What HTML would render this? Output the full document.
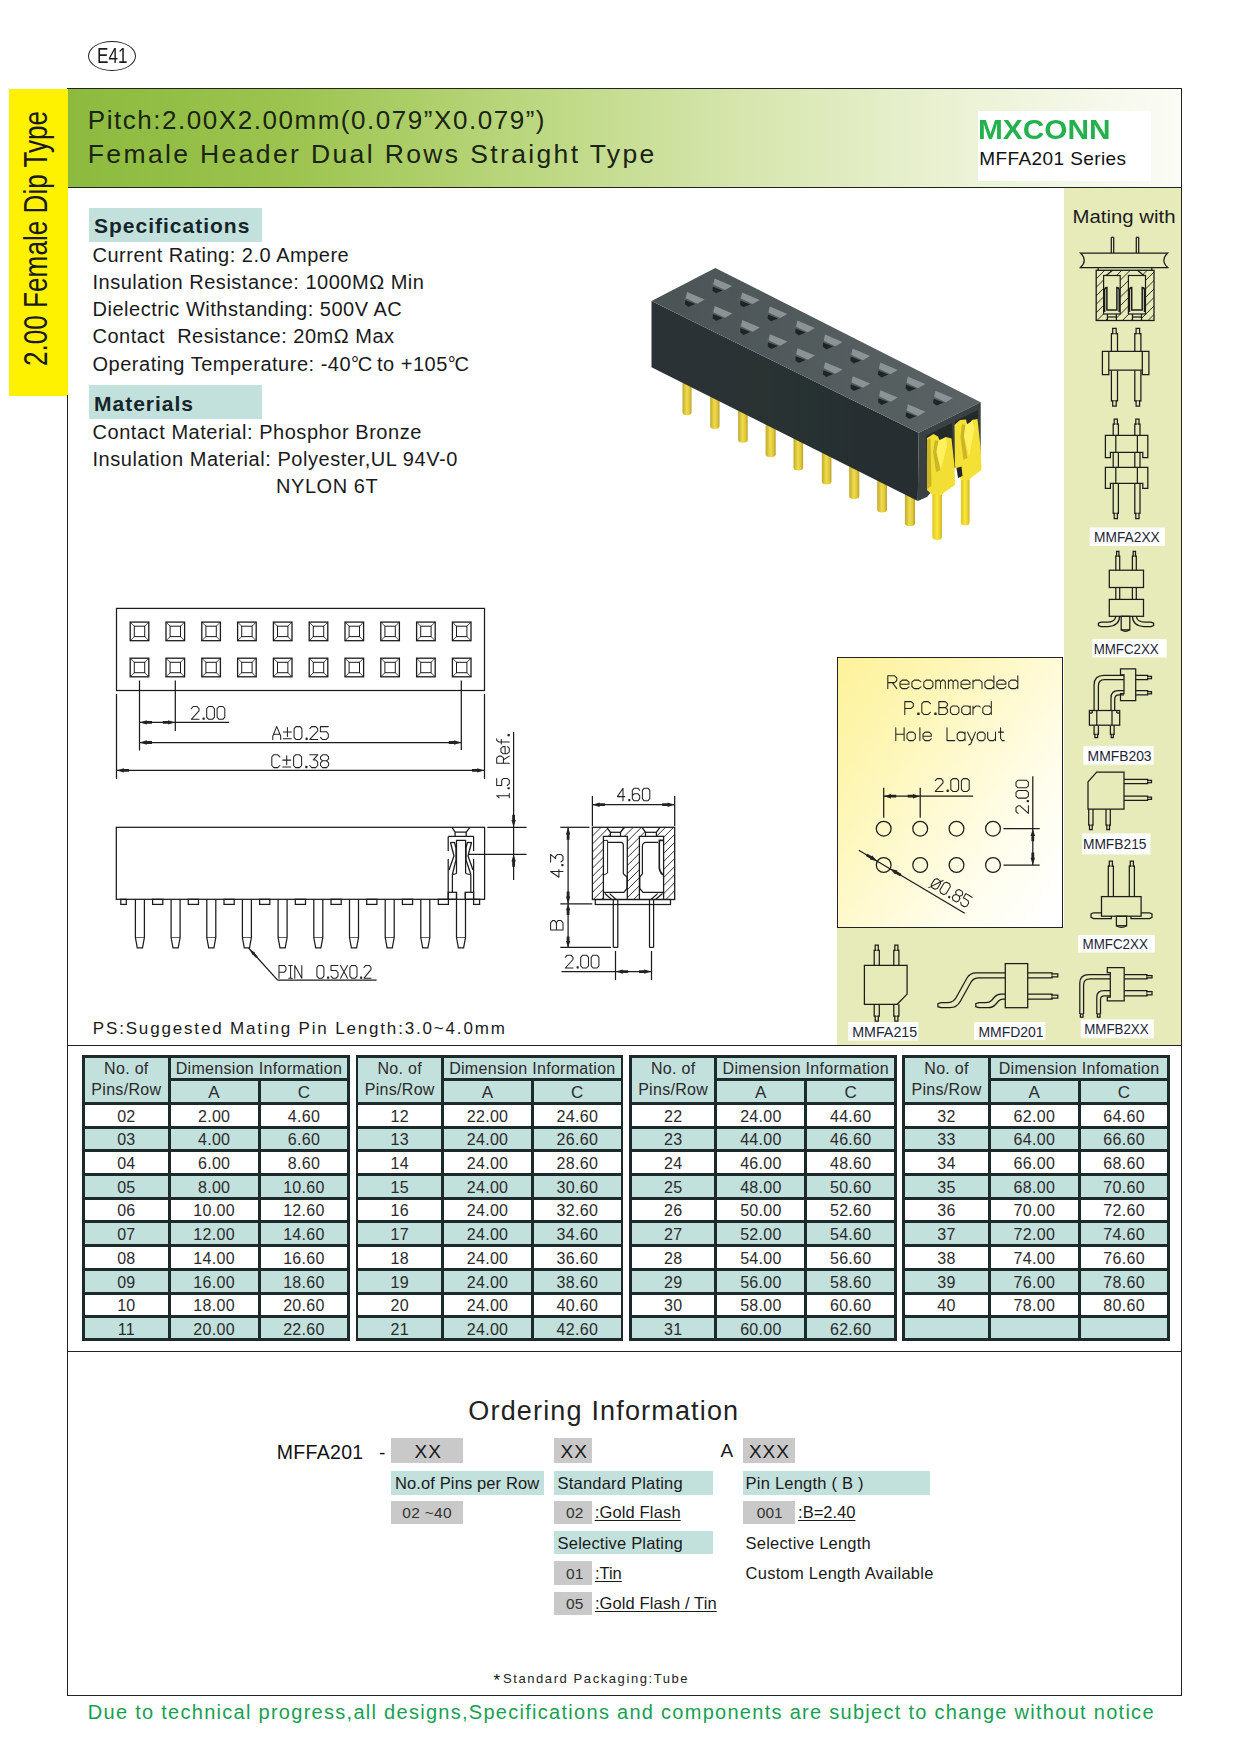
<!DOCTYPE html>
<html><head><meta charset="utf-8"><title>MFFA201 Series</title>
<style>
html,body{margin:0;padding:0;background:#fff;}
body{width:1240px;height:1755px;position:relative;overflow:hidden;font-family:"Liberation Sans",sans-serif;color:#1a1a1a;}
.t{position:absolute;white-space:pre;line-height:1;transform-origin:0 0;}
.r{position:absolute;}
.u{text-decoration:underline;text-decoration-thickness:1.3px;text-underline-offset:2px;}
svg{position:absolute;left:0;top:0;overflow:visible;}
svg text{font-family:"Liberation Sans",sans-serif;}
.c{position:absolute;overflow:hidden;text-align:center;color:#2b2b2b;}
.c span{position:absolute;left:0;right:0;line-height:1;white-space:pre;letter-spacing:0.3px;}
.tb{position:absolute;border-collapse:collapse;table-layout:fixed;font-size:15.5px;color:#222;}
.tb td{border:3px solid #1d2b2b;text-align:center;padding:0;line-height:1;overflow:hidden;white-space:nowrap;}
.tb .g{background:#c3e1dc;}
.tb .w{background:#fff;}
</style></head><body>

<div class="r" style="left:68.0px;top:88.5px;width:1113.5px;height:99.0px;background:linear-gradient(90deg,#8cba3e 0%,#9cc44f 20%,#b9d67c 40%,#d3e4a8 58%,#e6efcb 75%,#f3f7e6 90%,#fbfcf6 100%);"></div>
<div class="r" style="left:9.0px;top:88.5px;width:59.0px;height:307.0px;background:#fff200;"></div>
<div class="r" style="left:67.0px;top:88.0px;width:1115.0px;height:1.0px;background:#222;"></div>
<div class="r" style="left:68.0px;top:187.0px;width:1114.0px;height:1.0px;background:#222;"></div>
<div class="r" style="left:67.0px;top:395.0px;width:1.0px;height:1301.0px;background:#222;"></div>
<div class="r" style="left:1181.0px;top:88.0px;width:1.0px;height:1608.0px;background:#222;"></div>
<div class="r" style="left:67.0px;top:1695.0px;width:1115.0px;height:1.0px;background:#222;"></div>
<div class="r" style="left:67.0px;top:1045.0px;width:1115.0px;height:1.0px;background:#222;"></div>
<div class="r" style="left:67.0px;top:1351.0px;width:1115.0px;height:1.0px;background:#222;"></div>
<div class="r" style="left:1064.0px;top:188.0px;width:117.0px;height:857.0px;background:#e6ebb9;"></div>
<div class="r" style="left:837.0px;top:927.0px;width:228.0px;height:118.0px;background:#e6ebb9;"></div>
<div class="r" style="left:837.0px;top:657.0px;width:226.3px;height:270.5px;background:linear-gradient(125deg,#fdf29a 0%,#fdf5ae 20%,#fef9cc 45%,#fffdea 70%,#ffffff 95%);border:1px solid #222;box-sizing:border-box;"></div>
<div class="r" style="left:88px;top:40.5px;width:48px;height:30.5px;border:1px solid #222;border-radius:50%;box-sizing:border-box;"></div>
<div class="t " style="left:97.0px;top:45.2px;font-size:22.5px;transform:scaleX(0.76);">E41</div>
<div class="t" style="left:46.5px;top:366px;font-size:32.5px;transform:rotate(-90deg) scaleX(0.804);transform-origin:0 0;line-height:1;"><span style="position:relative;top:-27.5px">2.00 Female Dip Type</span></div>
<div class="t " style="left:87.8px;top:106.6px;font-size:26px;color:#1b2414;letter-spacing:1.54px;">Pitch:2.00X2.00mm(0.079”X0.079”)</div>
<div class="t " style="left:87.8px;top:141.2px;font-size:26.5px;color:#1b2414;letter-spacing:2.37px;">Female Header Dual Rows Straight Type</div>
<div class="r" style="left:977.5px;top:111.0px;width:173.0px;height:70.0px;background:#fff;"></div>
<div class="t " style="left:977.5px;top:116.2px;font-size:28px;font-weight:700;color:#22b14c;letter-spacing:0px;transform:scaleX(1.065);">MXCONN</div>
<div class="t " style="left:979.3px;top:148.8px;font-size:19px;color:#111;letter-spacing:0.4px;">MFFA201 Series</div>
<div class="r" style="left:89.0px;top:208.0px;width:173.0px;height:33.5px;background:#c3e1dc;"></div>
<div class="t " style="left:94.0px;top:215.4px;font-size:21px;font-weight:700;color:#16242a;letter-spacing:1.0px;">Specifications</div>
<div class="r" style="left:89.0px;top:385.0px;width:173.0px;height:33.5px;background:#c3e1dc;"></div>
<div class="t " style="left:94.0px;top:392.6px;font-size:21px;font-weight:700;color:#16242a;letter-spacing:1.0px;">Materials</div>
<div class="t " style="left:92.5px;top:244.7px;font-size:20px;letter-spacing:0.51px;">Current Rating: 2.0 Ampere</div>
<div class="t " style="left:92.5px;top:271.9px;font-size:20px;letter-spacing:0.51px;">Insulation Resistance: 1000MΩ Min</div>
<div class="t " style="left:92.5px;top:299.1px;font-size:20px;letter-spacing:0.51px;">Dielectric Withstanding: 500V AC</div>
<div class="t " style="left:92.5px;top:326.3px;font-size:20px;letter-spacing:0.51px;">Contact  Resistance: 20mΩ Max</div>
<div class="t " style="left:92.5px;top:353.5px;font-size:20px;letter-spacing:0.51px;">Operating Temperature: -40<span style="letter-spacing:-1.3px">°C</span> to +105<span style="letter-spacing:-1.3px">°C</span></div>
<div class="t " style="left:92.5px;top:421.6px;font-size:20px;letter-spacing:0.55px;">Contact Material: Phosphor Bronze</div>
<div class="t " style="left:92.5px;top:448.6px;font-size:20px;letter-spacing:0.55px;">Insulation Material: Polyester,UL 94V-0</div>
<div class="t " style="left:276.0px;top:475.6px;font-size:20px;letter-spacing:0.55px;">NYLON 6T</div>
<svg width="1240" height="1755" viewBox="0 0 1240 1755" fill="none" stroke="#1c1c1c" stroke-width="1.25" stroke-linecap="butt">
<rect x="116.5" y="608.4" width="368.0" height="82.1" fill="none"/>
<rect x="130.2" y="622.1" width="18.6" height="18.6" fill="none" stroke-width="1.3"/>
<rect x="134.3" y="626.2" width="10.4" height="10.4" fill="none" stroke-width="1"/>
<line x1="130.2" y1="622.1" x2="134.3" y2="626.2" stroke-width="0.8"/>
<line x1="130.2" y1="640.7" x2="134.3" y2="636.6" stroke-width="0.8"/>
<line x1="148.8" y1="622.1" x2="144.7" y2="626.2" stroke-width="0.8"/>
<line x1="148.8" y1="640.7" x2="144.7" y2="636.6" stroke-width="0.8"/>
<rect x="166.0" y="622.1" width="18.6" height="18.6" fill="none" stroke-width="1.3"/>
<rect x="170.1" y="626.2" width="10.4" height="10.4" fill="none" stroke-width="1"/>
<line x1="166.0" y1="622.1" x2="170.1" y2="626.2" stroke-width="0.8"/>
<line x1="166.0" y1="640.7" x2="170.1" y2="636.6" stroke-width="0.8"/>
<line x1="184.6" y1="622.1" x2="180.5" y2="626.2" stroke-width="0.8"/>
<line x1="184.6" y1="640.7" x2="180.5" y2="636.6" stroke-width="0.8"/>
<rect x="201.8" y="622.1" width="18.6" height="18.6" fill="none" stroke-width="1.3"/>
<rect x="205.9" y="626.2" width="10.4" height="10.4" fill="none" stroke-width="1"/>
<line x1="201.8" y1="622.1" x2="205.9" y2="626.2" stroke-width="0.8"/>
<line x1="201.8" y1="640.7" x2="205.9" y2="636.6" stroke-width="0.8"/>
<line x1="220.4" y1="622.1" x2="216.3" y2="626.2" stroke-width="0.8"/>
<line x1="220.4" y1="640.7" x2="216.3" y2="636.6" stroke-width="0.8"/>
<rect x="237.6" y="622.1" width="18.6" height="18.6" fill="none" stroke-width="1.3"/>
<rect x="241.7" y="626.2" width="10.4" height="10.4" fill="none" stroke-width="1"/>
<line x1="237.6" y1="622.1" x2="241.7" y2="626.2" stroke-width="0.8"/>
<line x1="237.6" y1="640.7" x2="241.7" y2="636.6" stroke-width="0.8"/>
<line x1="256.2" y1="622.1" x2="252.1" y2="626.2" stroke-width="0.8"/>
<line x1="256.2" y1="640.7" x2="252.1" y2="636.6" stroke-width="0.8"/>
<rect x="273.4" y="622.1" width="18.6" height="18.6" fill="none" stroke-width="1.3"/>
<rect x="277.5" y="626.2" width="10.4" height="10.4" fill="none" stroke-width="1"/>
<line x1="273.4" y1="622.1" x2="277.5" y2="626.2" stroke-width="0.8"/>
<line x1="273.4" y1="640.7" x2="277.5" y2="636.6" stroke-width="0.8"/>
<line x1="292.0" y1="622.1" x2="287.9" y2="626.2" stroke-width="0.8"/>
<line x1="292.0" y1="640.7" x2="287.9" y2="636.6" stroke-width="0.8"/>
<rect x="309.2" y="622.1" width="18.6" height="18.6" fill="none" stroke-width="1.3"/>
<rect x="313.3" y="626.2" width="10.4" height="10.4" fill="none" stroke-width="1"/>
<line x1="309.2" y1="622.1" x2="313.3" y2="626.2" stroke-width="0.8"/>
<line x1="309.2" y1="640.7" x2="313.3" y2="636.6" stroke-width="0.8"/>
<line x1="327.8" y1="622.1" x2="323.7" y2="626.2" stroke-width="0.8"/>
<line x1="327.8" y1="640.7" x2="323.7" y2="636.6" stroke-width="0.8"/>
<rect x="345.0" y="622.1" width="18.6" height="18.6" fill="none" stroke-width="1.3"/>
<rect x="349.1" y="626.2" width="10.4" height="10.4" fill="none" stroke-width="1"/>
<line x1="345.0" y1="622.1" x2="349.1" y2="626.2" stroke-width="0.8"/>
<line x1="345.0" y1="640.7" x2="349.1" y2="636.6" stroke-width="0.8"/>
<line x1="363.6" y1="622.1" x2="359.5" y2="626.2" stroke-width="0.8"/>
<line x1="363.6" y1="640.7" x2="359.5" y2="636.6" stroke-width="0.8"/>
<rect x="380.8" y="622.1" width="18.6" height="18.6" fill="none" stroke-width="1.3"/>
<rect x="384.9" y="626.2" width="10.4" height="10.4" fill="none" stroke-width="1"/>
<line x1="380.8" y1="622.1" x2="384.9" y2="626.2" stroke-width="0.8"/>
<line x1="380.8" y1="640.7" x2="384.9" y2="636.6" stroke-width="0.8"/>
<line x1="399.4" y1="622.1" x2="395.3" y2="626.2" stroke-width="0.8"/>
<line x1="399.4" y1="640.7" x2="395.3" y2="636.6" stroke-width="0.8"/>
<rect x="416.6" y="622.1" width="18.6" height="18.6" fill="none" stroke-width="1.3"/>
<rect x="420.7" y="626.2" width="10.4" height="10.4" fill="none" stroke-width="1"/>
<line x1="416.6" y1="622.1" x2="420.7" y2="626.2" stroke-width="0.8"/>
<line x1="416.6" y1="640.7" x2="420.7" y2="636.6" stroke-width="0.8"/>
<line x1="435.2" y1="622.1" x2="431.1" y2="626.2" stroke-width="0.8"/>
<line x1="435.2" y1="640.7" x2="431.1" y2="636.6" stroke-width="0.8"/>
<rect x="452.4" y="622.1" width="18.6" height="18.6" fill="none" stroke-width="1.3"/>
<rect x="456.5" y="626.2" width="10.4" height="10.4" fill="none" stroke-width="1"/>
<line x1="452.4" y1="622.1" x2="456.5" y2="626.2" stroke-width="0.8"/>
<line x1="452.4" y1="640.7" x2="456.5" y2="636.6" stroke-width="0.8"/>
<line x1="471.0" y1="622.1" x2="466.9" y2="626.2" stroke-width="0.8"/>
<line x1="471.0" y1="640.7" x2="466.9" y2="636.6" stroke-width="0.8"/>
<rect x="130.2" y="658.2" width="18.6" height="18.6" fill="none" stroke-width="1.3"/>
<rect x="134.3" y="662.3" width="10.4" height="10.4" fill="none" stroke-width="1"/>
<line x1="130.2" y1="658.2" x2="134.3" y2="662.3" stroke-width="0.8"/>
<line x1="130.2" y1="676.8" x2="134.3" y2="672.7" stroke-width="0.8"/>
<line x1="148.8" y1="658.2" x2="144.7" y2="662.3" stroke-width="0.8"/>
<line x1="148.8" y1="676.8" x2="144.7" y2="672.7" stroke-width="0.8"/>
<rect x="166.0" y="658.2" width="18.6" height="18.6" fill="none" stroke-width="1.3"/>
<rect x="170.1" y="662.3" width="10.4" height="10.4" fill="none" stroke-width="1"/>
<line x1="166.0" y1="658.2" x2="170.1" y2="662.3" stroke-width="0.8"/>
<line x1="166.0" y1="676.8" x2="170.1" y2="672.7" stroke-width="0.8"/>
<line x1="184.6" y1="658.2" x2="180.5" y2="662.3" stroke-width="0.8"/>
<line x1="184.6" y1="676.8" x2="180.5" y2="672.7" stroke-width="0.8"/>
<rect x="201.8" y="658.2" width="18.6" height="18.6" fill="none" stroke-width="1.3"/>
<rect x="205.9" y="662.3" width="10.4" height="10.4" fill="none" stroke-width="1"/>
<line x1="201.8" y1="658.2" x2="205.9" y2="662.3" stroke-width="0.8"/>
<line x1="201.8" y1="676.8" x2="205.9" y2="672.7" stroke-width="0.8"/>
<line x1="220.4" y1="658.2" x2="216.3" y2="662.3" stroke-width="0.8"/>
<line x1="220.4" y1="676.8" x2="216.3" y2="672.7" stroke-width="0.8"/>
<rect x="237.6" y="658.2" width="18.6" height="18.6" fill="none" stroke-width="1.3"/>
<rect x="241.7" y="662.3" width="10.4" height="10.4" fill="none" stroke-width="1"/>
<line x1="237.6" y1="658.2" x2="241.7" y2="662.3" stroke-width="0.8"/>
<line x1="237.6" y1="676.8" x2="241.7" y2="672.7" stroke-width="0.8"/>
<line x1="256.2" y1="658.2" x2="252.1" y2="662.3" stroke-width="0.8"/>
<line x1="256.2" y1="676.8" x2="252.1" y2="672.7" stroke-width="0.8"/>
<rect x="273.4" y="658.2" width="18.6" height="18.6" fill="none" stroke-width="1.3"/>
<rect x="277.5" y="662.3" width="10.4" height="10.4" fill="none" stroke-width="1"/>
<line x1="273.4" y1="658.2" x2="277.5" y2="662.3" stroke-width="0.8"/>
<line x1="273.4" y1="676.8" x2="277.5" y2="672.7" stroke-width="0.8"/>
<line x1="292.0" y1="658.2" x2="287.9" y2="662.3" stroke-width="0.8"/>
<line x1="292.0" y1="676.8" x2="287.9" y2="672.7" stroke-width="0.8"/>
<rect x="309.2" y="658.2" width="18.6" height="18.6" fill="none" stroke-width="1.3"/>
<rect x="313.3" y="662.3" width="10.4" height="10.4" fill="none" stroke-width="1"/>
<line x1="309.2" y1="658.2" x2="313.3" y2="662.3" stroke-width="0.8"/>
<line x1="309.2" y1="676.8" x2="313.3" y2="672.7" stroke-width="0.8"/>
<line x1="327.8" y1="658.2" x2="323.7" y2="662.3" stroke-width="0.8"/>
<line x1="327.8" y1="676.8" x2="323.7" y2="672.7" stroke-width="0.8"/>
<rect x="345.0" y="658.2" width="18.6" height="18.6" fill="none" stroke-width="1.3"/>
<rect x="349.1" y="662.3" width="10.4" height="10.4" fill="none" stroke-width="1"/>
<line x1="345.0" y1="658.2" x2="349.1" y2="662.3" stroke-width="0.8"/>
<line x1="345.0" y1="676.8" x2="349.1" y2="672.7" stroke-width="0.8"/>
<line x1="363.6" y1="658.2" x2="359.5" y2="662.3" stroke-width="0.8"/>
<line x1="363.6" y1="676.8" x2="359.5" y2="672.7" stroke-width="0.8"/>
<rect x="380.8" y="658.2" width="18.6" height="18.6" fill="none" stroke-width="1.3"/>
<rect x="384.9" y="662.3" width="10.4" height="10.4" fill="none" stroke-width="1"/>
<line x1="380.8" y1="658.2" x2="384.9" y2="662.3" stroke-width="0.8"/>
<line x1="380.8" y1="676.8" x2="384.9" y2="672.7" stroke-width="0.8"/>
<line x1="399.4" y1="658.2" x2="395.3" y2="662.3" stroke-width="0.8"/>
<line x1="399.4" y1="676.8" x2="395.3" y2="672.7" stroke-width="0.8"/>
<rect x="416.6" y="658.2" width="18.6" height="18.6" fill="none" stroke-width="1.3"/>
<rect x="420.7" y="662.3" width="10.4" height="10.4" fill="none" stroke-width="1"/>
<line x1="416.6" y1="658.2" x2="420.7" y2="662.3" stroke-width="0.8"/>
<line x1="416.6" y1="676.8" x2="420.7" y2="672.7" stroke-width="0.8"/>
<line x1="435.2" y1="658.2" x2="431.1" y2="662.3" stroke-width="0.8"/>
<line x1="435.2" y1="676.8" x2="431.1" y2="672.7" stroke-width="0.8"/>
<rect x="452.4" y="658.2" width="18.6" height="18.6" fill="none" stroke-width="1.3"/>
<rect x="456.5" y="662.3" width="10.4" height="10.4" fill="none" stroke-width="1"/>
<line x1="452.4" y1="658.2" x2="456.5" y2="662.3" stroke-width="0.8"/>
<line x1="452.4" y1="676.8" x2="456.5" y2="672.7" stroke-width="0.8"/>
<line x1="471.0" y1="658.2" x2="466.9" y2="662.3" stroke-width="0.8"/>
<line x1="471.0" y1="676.8" x2="466.9" y2="672.7" stroke-width="0.8"/>
<line x1="139.5" y1="680.5" x2="139.5" y2="750.5"/>
<line x1="175.3" y1="680.5" x2="175.3" y2="731.0"/>
<line x1="139.5" y1="722.4" x2="229.0" y2="722.4"/>
<path d="M139.5,722.4 L146.8,720.2 L146.8,721.0 L152.0,721.0 L152.0,723.8 L146.8,723.8 L146.8,724.6 Z" fill="#222" stroke="none"/>
<path d="M175.3,722.4 L168.1,724.6 L168.1,723.8 L162.8,723.8 L162.8,721.0 L168.1,721.0 L168.1,720.2 Z" fill="#222" stroke="none"/>
<path d="M191.3,708.6 L193.2,706.5 L197.1,706.5 L199.0,708.6 L199.0,710.8 L191.3,719.3 L199.0,719.3 M203.0,719.3 L204.2,719.3 L204.2,718.0 L203.0,718.0 L203.0,719.3 M208.6,719.3 L212.5,719.3 L214.4,717.2 L214.4,708.6 L212.5,706.5 L208.6,706.5 L206.7,708.6 L206.7,717.2 L208.6,719.3 M219.0,719.3 L222.9,719.3 L224.8,717.2 L224.8,708.6 L222.9,706.5 L219.0,706.5 L217.1,708.6 L217.1,717.2 L219.0,719.3" fill="none" stroke="#222" stroke-width="1.05" stroke-linejoin="round" stroke-linecap="round"/>
<line x1="461.3" y1="680.5" x2="461.3" y2="750.0"/>
<line x1="139.5" y1="742.5" x2="461.3" y2="742.5"/>
<path d="M139.5,742.5 L146.8,740.3 L146.8,741.1 L152.0,741.1 L152.0,743.9 L146.8,743.9 L146.8,744.7 Z" fill="#222" stroke="none"/>
<path d="M461.3,742.5 L454.1,744.7 L454.1,743.9 L448.8,743.9 L448.8,741.1 L454.1,741.1 L454.1,740.3 Z" fill="#222" stroke="none"/>
<path d="M272.8,739.4 L272.8,736.0 L276.7,726.6 L280.7,736.0 L280.7,739.4 M273.6,734.3 L279.9,734.3 M287.4,736.4 L287.4,727.5 M283.4,731.9 L291.3,731.9 M283.4,738.8 L291.3,738.8 M296.0,739.4 L300.0,739.4 L301.9,737.3 L301.9,728.7 L300.0,726.6 L296.0,726.6 L294.1,728.7 L294.1,737.3 L296.0,739.4 M306.1,739.4 L307.2,739.4 L307.2,738.1 L306.1,738.1 L306.1,739.4 M309.8,728.7 L311.8,726.6 L315.7,726.6 L317.7,728.7 L317.7,730.9 L309.8,739.4 L317.7,739.4 M328.3,726.6 L320.4,726.6 L320.4,731.7 L326.3,731.7 L328.3,733.9 L328.3,737.3 L326.3,739.4 L322.4,739.4 L320.4,737.3" fill="none" stroke="#222" stroke-width="1.05" stroke-linejoin="round" stroke-linecap="round"/>
<line x1="116.5" y1="694.0" x2="116.5" y2="779.0"/>
<line x1="484.5" y1="694.0" x2="484.5" y2="779.0"/>
<line x1="116.5" y1="770.4" x2="484.5" y2="770.4"/>
<path d="M116.5,770.4 L123.8,768.2 L123.8,769.0 L129.0,769.0 L129.0,771.8 L123.8,771.8 L123.8,772.6 Z" fill="#222" stroke="none"/>
<path d="M484.5,770.4 L477.2,772.6 L477.2,771.8 L472.0,771.8 L472.0,769.0 L477.2,769.0 L477.2,768.2 Z" fill="#222" stroke="none"/>
<path d="M279.9,756.9 L277.8,754.8 L273.8,754.8 L271.8,756.9 L271.8,765.5 L273.8,767.6 L277.8,767.6 L279.9,765.5 M286.7,764.6 L286.7,755.7 M282.7,760.1 L290.7,760.1 M282.7,767.0 L290.7,767.0 M295.6,767.6 L299.6,767.6 L301.6,765.5 L301.6,756.9 L299.6,754.8 L295.6,754.8 L293.6,756.9 L293.6,765.5 L295.6,767.6 M305.8,767.6 L307.0,767.6 L307.0,766.3 L305.8,766.3 L305.8,767.6 M309.7,754.8 L317.7,754.8 L313.3,759.9 L315.7,759.9 L317.7,762.1 L317.7,765.5 L315.7,767.6 L311.7,767.6 L309.7,765.5 M322.6,760.8 L320.5,758.9 L320.5,756.9 L322.6,754.8 L326.6,754.8 L328.6,756.9 L328.6,758.9 L326.6,760.8 L322.6,760.8 L320.5,762.9 L320.5,765.5 L322.6,767.6 L326.6,767.6 L328.6,765.5 L328.6,762.9 L326.6,760.8" fill="none" stroke="#222" stroke-width="1.05" stroke-linejoin="round" stroke-linecap="round"/>
<rect x="116.3" y="827.3" width="368.3" height="72.0" fill="none"/>
<path d="M135.4,899.3 L135.4,937.5 L137.3,947.8 L142.5,947.8 L144.4,937.5 L144.4,899.3" fill="none"/>
<line x1="135.4" y1="937.5" x2="144.4" y2="937.5" stroke-width="0.7"/>
<path d="M171.1,899.3 L171.1,937.5 L173.0,947.8 L178.2,947.8 L180.1,937.5 L180.1,899.3" fill="none"/>
<line x1="171.1" y1="937.5" x2="180.1" y2="937.5" stroke-width="0.7"/>
<path d="M206.8,899.3 L206.8,937.5 L208.7,947.8 L213.9,947.8 L215.8,937.5 L215.8,899.3" fill="none"/>
<line x1="206.8" y1="937.5" x2="215.8" y2="937.5" stroke-width="0.7"/>
<path d="M242.4,899.3 L242.4,937.5 L244.3,947.8 L249.5,947.8 L251.4,937.5 L251.4,899.3" fill="none"/>
<line x1="242.4" y1="937.5" x2="251.4" y2="937.5" stroke-width="0.7"/>
<path d="M278.1,899.3 L278.1,937.5 L280.0,947.8 L285.2,947.8 L287.1,937.5 L287.1,899.3" fill="none"/>
<line x1="278.1" y1="937.5" x2="287.1" y2="937.5" stroke-width="0.7"/>
<path d="M313.8,899.3 L313.8,937.5 L315.7,947.8 L320.9,947.8 L322.8,937.5 L322.8,899.3" fill="none"/>
<line x1="313.8" y1="937.5" x2="322.8" y2="937.5" stroke-width="0.7"/>
<path d="M349.5,899.3 L349.5,937.5 L351.4,947.8 L356.6,947.8 L358.5,937.5 L358.5,899.3" fill="none"/>
<line x1="349.5" y1="937.5" x2="358.5" y2="937.5" stroke-width="0.7"/>
<path d="M385.2,899.3 L385.2,937.5 L387.1,947.8 L392.3,947.8 L394.2,937.5 L394.2,899.3" fill="none"/>
<line x1="385.2" y1="937.5" x2="394.2" y2="937.5" stroke-width="0.7"/>
<path d="M420.8,899.3 L420.8,937.5 L422.7,947.8 L427.9,947.8 L429.8,937.5 L429.8,899.3" fill="none"/>
<line x1="420.8" y1="937.5" x2="429.8" y2="937.5" stroke-width="0.7"/>
<path d="M456.5,899.3 L456.5,937.5 L458.4,947.8 L463.6,947.8 L465.5,937.5 L465.5,899.3" fill="none"/>
<line x1="456.5" y1="937.5" x2="465.5" y2="937.5" stroke-width="0.7"/>
<rect x="120.8" y="899.3" width="5.5" height="5.1" fill="none"/>
<rect x="152.6" y="899.3" width="10.2" height="5.1" fill="none"/>
<rect x="188.3" y="899.3" width="10.2" height="5.1" fill="none"/>
<rect x="224.0" y="899.3" width="10.2" height="5.1" fill="none"/>
<rect x="259.6" y="899.3" width="10.2" height="5.1" fill="none"/>
<rect x="295.3" y="899.3" width="10.2" height="5.1" fill="none"/>
<rect x="331.0" y="899.3" width="10.2" height="5.1" fill="none"/>
<rect x="366.7" y="899.3" width="10.2" height="5.1" fill="none"/>
<rect x="402.4" y="899.3" width="10.2" height="5.1" fill="none"/>
<rect x="438.3" y="899.3" width="10.1" height="5.1" fill="none"/>
<rect x="473.6" y="899.3" width="6.0" height="5.1" fill="none"/>
<path d="M452.0,827.3 L455.1,832.1 L455.1,836.4" fill="none"/>
<path d="M469.9,827.3 L466.2,832.1 L466.2,836.4" fill="none"/>
<line x1="455.1" y1="832.1" x2="466.2" y2="832.1"/>
<line x1="448.2" y1="836.4" x2="473.6" y2="836.4"/>
<line x1="448.2" y1="836.4" x2="448.2" y2="851.0"/>
<line x1="448.2" y1="859.0" x2="448.2" y2="899.3"/>
<line x1="473.6" y1="836.4" x2="473.6" y2="851.0"/>
<line x1="473.6" y1="859.0" x2="473.6" y2="899.3"/>
<path d="M456.5,873 L456.5,840.4 L465.6,840.4 L465.6,873" fill="none"/>
<path d="M456.5,873 Q456.3,874.3 452.6,874.3" fill="none"/>
<path d="M465.6,873 Q465.8,874.3 470.6,874.3" fill="none"/>
<path d="M450.2,842.5 L455.0,842.5" fill="none"/>
<path d="M467.0,842.5 L472.0,842.5" fill="none"/>
<path d="M450.5,842.5 L454.0,856.0 L449.0,870.0" fill="none" stroke-width="1.3"/>
<path d="M454.5,842.5 L456.0,848.0 L456.0,860.0 L452.4,874.3" fill="none" stroke-width="1.3"/>
<path d="M471.5,842.5 L468.0,856.0 L473.0,870.0" fill="none" stroke-width="1.3"/>
<path d="M467.3,842.5 L466.0,848.0 L466.0,860.0 L470.8,874.3" fill="none" stroke-width="1.3"/>
<line x1="452.4" y1="874.3" x2="452.4" y2="892.3"/>
<line x1="470.8" y1="874.3" x2="470.8" y2="892.3"/>
<rect x="448.2" y="892.3" width="8.3" height="7.0" fill="none"/>
<rect x="465.3" y="892.3" width="8.3" height="7.0" fill="none"/>
<line x1="456.5" y1="892.3" x2="456.5" y2="899.3"/>
<line x1="465.3" y1="892.3" x2="465.3" y2="899.3"/>
<line x1="513.6" y1="732.0" x2="513.6" y2="880.0"/>
<line x1="487.3" y1="827.3" x2="526.5" y2="827.3"/>
<line x1="468.8" y1="854.3" x2="526.5" y2="854.3"/>
<path d="M513.6,827.3 L511.4,820.0 L512.2,820.0 L512.2,814.8 L515.0,814.8 L515.0,820.0 L515.8,820.0 Z" fill="#222" stroke="none"/>
<path d="M513.6,854.3 L515.8,861.5 L515.0,861.5 L515.0,866.8 L512.2,866.8 L512.2,861.5 L511.4,861.5 Z" fill="#222" stroke="none"/>
<path d="M499.2,797.8 L496.7,795.7 L509.3,795.7 M509.3,797.8 L509.3,793.6 M509.3,788.8 L509.3,787.8 L508.0,787.8 L508.0,788.8 L509.3,788.8 M496.7,778.4 L496.7,785.5 L501.7,785.5 L501.7,780.2 L503.8,778.4 L507.2,778.4 L509.3,780.2 L509.3,783.7 L507.2,785.5 M509.3,763.2 L496.7,763.2 L496.7,757.9 L498.8,756.1 L501.3,756.1 L503.4,757.9 L503.4,763.2 M503.4,759.7 L509.3,756.1 M505.1,753.7 L505.1,746.6 L503.0,746.6 L500.9,748.4 L500.9,751.9 L503.0,753.7 L507.2,753.7 L509.3,751.9 L509.3,748.4 L507.6,746.6 M509.3,742.0 L498.8,742.0 L496.7,740.4 L496.7,738.7 M501.3,744.0 L501.3,739.4 M509.3,735.7 L509.3,734.6 L508.0,734.6 L508.0,735.7 L509.3,735.7" fill="none" stroke="#222" stroke-width="1.05" stroke-linejoin="round" stroke-linecap="round"/>
<line x1="248.6" y1="948.0" x2="277.6" y2="980.2"/>
<line x1="277.6" y1="980.2" x2="376.6" y2="980.2"/>
<path d="M249.6,949.2 L255.2,952.7 L254.7,953.2 L257.8,956.6 L256.1,958.1 L253.0,954.7 L252.5,955.1 Z" fill="#222" stroke="none"/>
<path d="M279.0,978.2 L279.0,965.4 L284.3,965.4 L286.0,967.5 L286.0,970.1 L284.3,972.2 L279.0,972.2 M290.6,978.2 L290.6,965.4 M288.8,978.2 L292.3,978.2 M288.8,965.4 L292.3,965.4 M294.8,978.2 L294.8,965.4 L301.8,978.2 L301.8,965.4 M318.7,978.2 L322.2,978.2 L323.9,976.1 L323.9,967.5 L322.2,965.4 L318.7,965.4 L316.9,967.5 L316.9,976.1 L318.7,978.2 M327.6,978.2 L328.7,978.2 L328.7,976.9 L327.6,976.9 L327.6,978.2 M338.0,965.4 L331.0,965.4 L331.0,970.5 L336.2,970.5 L338.0,972.7 L338.0,976.1 L336.2,978.2 L332.7,978.2 L331.0,976.1 M340.5,978.2 L347.5,965.4 M340.5,965.4 L347.5,978.2 M351.7,978.2 L355.2,978.2 L357.0,976.1 L357.0,967.5 L355.2,965.4 L351.7,965.4 L349.9,967.5 L349.9,976.1 L351.7,978.2 M360.6,978.2 L361.7,978.2 L361.7,976.9 L360.6,976.9 L360.6,978.2 M364.0,967.5 L365.7,965.4 L369.2,965.4 L371.0,967.5 L371.0,969.7 L364.0,978.2 L371.0,978.2" fill="none" stroke="#222" stroke-width="1.05" stroke-linejoin="round" stroke-linecap="round"/>
<defs><clipPath id="hc"><path clip-rule="evenodd" d="M592.4,827.3 H674.7 V899.5 H592.4 Z M603.4,836.4 H627.3 V899.5 H603.4 Z M639.4,836.4 H663.6 V899.5 H639.4 Z M607,827.3 L610.4,832.3 V836.4 H620.5 V832.3 L624,827.3 Z M642.5,827.3 L645.5,832.3 V836.4 H656.4 V832.3 L660,827.3 Z"/></clipPath></defs>
<g clip-path="url(#hc)" stroke-width="0.9">
<line x1="587.4" y1="752.3" x2="712.4" y2="627.3"/>
<line x1="587.4" y1="760.4" x2="712.4" y2="635.4"/>
<line x1="587.4" y1="768.4" x2="712.4" y2="643.4"/>
<line x1="587.4" y1="776.5" x2="712.4" y2="651.5"/>
<line x1="587.4" y1="784.5" x2="712.4" y2="659.5"/>
<line x1="587.4" y1="792.6" x2="712.4" y2="667.6"/>
<line x1="587.4" y1="800.7" x2="712.4" y2="675.7"/>
<line x1="587.4" y1="808.7" x2="712.4" y2="683.7"/>
<line x1="587.4" y1="816.8" x2="712.4" y2="691.8"/>
<line x1="587.4" y1="824.8" x2="712.4" y2="699.8"/>
<line x1="587.4" y1="832.9" x2="712.4" y2="707.9"/>
<line x1="587.4" y1="841.0" x2="712.4" y2="716.0"/>
<line x1="587.4" y1="849.0" x2="712.4" y2="724.0"/>
<line x1="587.4" y1="857.1" x2="712.4" y2="732.1"/>
<line x1="587.4" y1="865.1" x2="712.4" y2="740.1"/>
<line x1="587.4" y1="873.2" x2="712.4" y2="748.2"/>
<line x1="587.4" y1="881.3" x2="712.4" y2="756.3"/>
<line x1="587.4" y1="889.3" x2="712.4" y2="764.3"/>
<line x1="587.4" y1="897.4" x2="712.4" y2="772.4"/>
<line x1="587.4" y1="905.4" x2="712.4" y2="780.4"/>
<line x1="587.4" y1="913.5" x2="712.4" y2="788.5"/>
<line x1="587.4" y1="921.6" x2="712.4" y2="796.6"/>
<line x1="587.4" y1="929.6" x2="712.4" y2="804.6"/>
<line x1="587.4" y1="937.7" x2="712.4" y2="812.7"/>
<line x1="587.4" y1="945.7" x2="712.4" y2="820.7"/>
<line x1="587.4" y1="953.8" x2="712.4" y2="828.8"/>
<line x1="587.4" y1="961.9" x2="712.4" y2="836.9"/>
<line x1="587.4" y1="969.9" x2="712.4" y2="844.9"/>
<line x1="587.4" y1="978.0" x2="712.4" y2="853.0"/>
<line x1="587.4" y1="986.0" x2="712.4" y2="861.0"/>
<line x1="587.4" y1="994.1" x2="712.4" y2="869.1"/>
<line x1="587.4" y1="1002.2" x2="712.4" y2="877.2"/>
<line x1="587.4" y1="1010.2" x2="712.4" y2="885.2"/>
<line x1="587.4" y1="1018.3" x2="712.4" y2="893.3"/>
<line x1="587.4" y1="1026.3" x2="712.4" y2="901.3"/>
</g>
<rect x="592.4" y="827.3" width="82.3" height="72.2" fill="none" stroke-width="1.3"/>
<path d="M603.4,899.5 L603.4,836.4 L627.3,836.4 L627.3,899.5" fill="none" stroke-width="1.3"/>
<path d="M606.8,827.3 L610.4,832.3 L610.4,836.4" fill="none"/>
<path d="M624.0,827.3 L620.5,832.3 L620.5,836.4" fill="none"/>
<line x1="610.4" y1="832.3" x2="620.5" y2="832.3"/>
<path d="M639.4,899.5 L639.4,836.4 L663.6,836.4 L663.6,899.5" fill="none" stroke-width="1.3"/>
<path d="M642.0,827.3 L645.5,832.3 L645.5,836.4" fill="none"/>
<path d="M660.0,827.3 L656.4,832.3 L656.4,836.4" fill="none"/>
<line x1="645.5" y1="832.3" x2="656.4" y2="832.3"/>
<path d="M604,840.4 H607.6 V873 L604,875" fill="none" stroke-width="1"/>
<path d="M608,842.4 H621 Q623.3,842.6 623.3,845 V873.8 L627,877 V888.5 L623.8,892.4 H604" fill="none" stroke-width="1.2"/>
<line x1="604.8" y1="893.6" x2="611.7" y2="899.5"/>
<line x1="609.6" y1="893.6" x2="616.1" y2="899.5"/>
<path d="M663,840.4 H659.3 V868 Q659.5,872 663,875" fill="none" stroke-width="1.6"/>
<path d="M658,842.4 H646 Q642.6,842.6 642.4,846 V873.8 L639.8,877 V888.5 L643,892.4 H663" fill="none" stroke-width="1.2"/>
<line x1="662.5" y1="893.6" x2="655.5" y2="899.5"/>
<line x1="657.6" y1="893.6" x2="651.0" y2="899.5"/>
<rect x="595.3" y="899.5" width="75.2" height="5.0" fill="none"/>
<line x1="613.3" y1="899.5" x2="613.3" y2="947.4"/>
<line x1="617.8" y1="899.5" x2="617.8" y2="947.4"/>
<line x1="613.3" y1="947.4" x2="617.8" y2="947.4"/>
<line x1="649.5" y1="899.5" x2="649.5" y2="947.4"/>
<line x1="653.6" y1="899.5" x2="653.6" y2="947.4"/>
<line x1="649.5" y1="947.4" x2="653.6" y2="947.4"/>
<line x1="592.4" y1="796.0" x2="592.4" y2="826.0"/>
<line x1="674.7" y1="796.0" x2="674.7" y2="826.0"/>
<line x1="592.4" y1="804.7" x2="674.7" y2="804.7"/>
<path d="M592.4,804.7 L599.6,802.5 L599.6,803.3 L604.9,803.3 L604.9,806.1 L599.6,806.1 L599.6,806.9 Z" fill="#222" stroke="none"/>
<path d="M674.7,804.7 L667.5,806.9 L667.5,806.1 L662.2,806.1 L662.2,803.3 L667.5,803.3 L667.5,802.5 Z" fill="#222" stroke="none"/>
<path d="M623.0,800.8 L623.0,788.2 L617.4,796.6 L624.8,796.6 M628.8,800.8 L629.9,800.8 L629.9,799.5 L628.8,799.5 L628.8,800.8 M639.7,790.3 L637.9,788.2 L634.2,788.2 L632.3,790.3 L632.3,798.7 L634.2,800.8 L637.9,800.8 L639.7,798.7 L639.7,795.8 L637.9,793.7 L634.2,793.7 L632.3,795.8 M644.2,800.8 L647.9,800.8 L649.8,798.7 L649.8,790.3 L647.9,788.2 L644.2,788.2 L642.4,790.3 L642.4,798.7 L644.2,800.8" fill="none" stroke="#222" stroke-width="1.05" stroke-linejoin="round" stroke-linecap="round"/>
<line x1="560.3" y1="827.3" x2="589.4" y2="827.3"/>
<line x1="560.3" y1="903.9" x2="592.3" y2="903.9"/>
<line x1="560.3" y1="947.4" x2="611.0" y2="947.4"/>
<line x1="568.1" y1="827.3" x2="568.1" y2="947.4"/>
<path d="M568.1,827.3 L570.3,834.5 L569.5,834.5 L569.5,839.8 L566.7,839.8 L566.7,834.5 L565.9,834.5 Z" fill="#222" stroke="none"/>
<path d="M568.1,903.9 L565.9,896.6 L566.7,896.6 L566.7,891.4 L569.5,891.4 L569.5,896.6 L570.3,896.6 Z" fill="#222" stroke="none"/>
<path d="M568.1,903.9 L570.3,910.3 L569.5,910.3 L569.5,914.9 L566.7,914.9 L566.7,910.3 L565.9,910.3 Z" fill="#222" stroke="none"/>
<path d="M568.1,947.4 L565.9,941.0 L566.7,941.0 L566.7,936.4 L569.5,936.4 L569.5,941.0 L570.3,941.0 Z" fill="#222" stroke="none"/>
<path d="M563.0,871.5 L550.6,871.5 L558.9,877.2 L558.9,869.6 M563.0,865.6 L563.0,864.5 L561.8,864.5 L561.8,865.6 L563.0,865.6 M550.6,862.0 L550.6,854.4 L555.6,858.6 L555.6,856.3 L557.6,854.4 L560.9,854.4 L563.0,856.3 L563.0,860.1 L560.9,862.0" fill="none" stroke="#222" stroke-width="1.05" stroke-linejoin="round" stroke-linecap="round"/>
<path d="M563.0,930.0 L550.6,930.0 L550.6,922.8 L552.7,920.4 L554.5,920.4 L556.4,922.8 L556.4,930.0 M556.4,922.8 L558.2,920.4 L560.9,920.4 L563.0,922.8 L563.0,930.0" fill="none" stroke="#222" stroke-width="1.05" stroke-linejoin="round" stroke-linecap="round"/>
<line x1="615.5" y1="951.0" x2="615.5" y2="980.0"/>
<line x1="651.5" y1="951.0" x2="651.5" y2="980.0"/>
<line x1="561.5" y1="971.6" x2="651.5" y2="971.6"/>
<path d="M615.5,971.6 L622.8,969.4 L622.8,970.2 L628.0,970.2 L628.0,973.0 L622.8,973.0 L622.8,973.8 Z" fill="#222" stroke="none"/>
<path d="M651.5,971.6 L644.2,973.8 L644.2,973.0 L639.0,973.0 L639.0,970.2 L644.2,970.2 L644.2,969.4 Z" fill="#222" stroke="none"/>
<path d="M565.3,957.3 L567.2,955.2 L571.1,955.2 L573.0,957.3 L573.0,959.5 L565.3,968.0 L573.0,968.0 M577.1,968.0 L578.2,968.0 L578.2,966.7 L577.1,966.7 L577.1,968.0 M582.7,968.0 L586.5,968.0 L588.5,965.9 L588.5,957.3 L586.5,955.2 L582.7,955.2 L580.7,957.3 L580.7,965.9 L582.7,968.0 M593.1,968.0 L597.0,968.0 L598.9,965.9 L598.9,957.3 L597.0,955.2 L593.1,955.2 L591.2,957.3 L591.2,965.9 L593.1,968.0" fill="none" stroke="#222" stroke-width="1.05" stroke-linejoin="round" stroke-linecap="round"/>
<path d="M887.8,688.6 L887.8,675.8 L894.6,675.8 L896.8,677.9 L896.8,680.5 L894.6,682.6 L887.8,682.6 M892.3,682.6 L896.8,688.6 M900.0,684.3 L909.0,684.3 L909.0,682.2 L906.7,680.1 L902.2,680.1 L900.0,682.2 L900.0,686.5 L902.2,688.6 L906.7,688.6 L909.0,686.9 M920.9,681.8 L918.7,680.1 L914.2,680.1 L911.9,682.2 L911.9,686.5 L914.2,688.6 L918.7,688.6 L920.9,686.9 M926.1,688.6 L930.6,688.6 L932.9,686.5 L932.9,682.2 L930.6,680.1 L926.1,680.1 L923.8,682.2 L923.8,686.5 L926.1,688.6 M935.8,688.6 L935.8,680.1 M935.8,681.8 L937.6,680.1 L939.2,680.1 L940.5,681.8 L940.5,688.6 M940.5,681.8 L942.3,680.1 L943.9,680.1 L945.3,681.8 L945.3,688.6 M948.4,688.6 L948.4,680.1 M948.4,681.8 L950.2,680.1 L951.8,680.1 L953.1,681.8 L953.1,688.6 M953.1,681.8 L954.9,680.1 L956.5,680.1 L957.9,681.8 L957.9,688.6 M961.0,684.3 L970.0,684.3 L970.0,682.2 L967.8,680.1 L963.3,680.1 L961.0,682.2 L961.0,686.5 L963.3,688.6 L967.8,688.6 L970.0,686.9 M973.0,688.6 L973.0,680.1 M973.0,682.2 L975.2,680.1 L979.7,680.1 L982.0,682.2 L982.0,688.6 M993.9,688.6 L993.9,675.8 M993.9,682.2 L991.7,680.1 L987.2,680.1 L984.9,682.2 L984.9,686.5 L987.2,688.6 L991.7,688.6 L993.9,686.5 M996.8,684.3 L1005.9,684.3 L1005.9,682.2 L1003.6,680.1 L999.1,680.1 L996.8,682.2 L996.8,686.5 L999.1,688.6 L1003.6,688.6 L1005.9,686.9 M1017.8,688.6 L1017.8,675.8 M1017.8,682.2 L1015.5,680.1 L1011.0,680.1 L1008.8,682.2 L1008.8,686.5 L1011.0,688.6 L1015.5,688.6 L1017.8,686.5" fill="none" stroke="#222" stroke-width="1.05" stroke-linejoin="round" stroke-linecap="round"/>
<path d="M904.8,714.4 L904.8,701.6 L911.2,701.6 L913.3,703.7 L913.3,706.3 L911.2,708.4 L904.8,708.4 M917.8,714.4 L919.1,714.4 L919.1,713.1 L917.8,713.1 L917.8,714.4 M930.4,703.7 L928.2,701.6 L924.0,701.6 L921.8,703.7 L921.8,712.3 L924.0,714.4 L928.2,714.4 L930.4,712.3 M934.8,714.4 L936.1,714.4 L936.1,713.1 L934.8,713.1 L934.8,714.4 M938.9,714.4 L938.9,701.6 L945.3,701.6 L947.4,703.7 L947.4,705.7 L945.3,707.6 L938.9,707.6 M945.3,707.6 L947.4,709.5 L947.4,712.3 L945.3,714.4 L938.9,714.4 M952.5,714.4 L956.8,714.4 L958.9,712.3 L958.9,708.0 L956.8,705.9 L952.5,705.9 L950.4,708.0 L950.4,712.3 L952.5,714.4 M970.2,714.4 L970.2,705.9 M970.2,708.0 L968.1,705.9 L963.8,705.9 L961.7,708.0 L961.7,712.3 L963.8,714.4 L968.1,714.4 L970.2,712.3 M973.0,714.4 L973.0,705.9 M973.0,708.9 L976.0,705.9 L978.9,705.9 L980.2,707.1 M991.3,714.4 L991.3,701.6 M991.3,708.0 L989.2,705.9 L984.9,705.9 L982.8,708.0 L982.8,712.3 L984.9,714.4 L989.2,714.4 L991.3,712.3" fill="none" stroke="#222" stroke-width="1.05" stroke-linejoin="round" stroke-linecap="round"/>
<path d="M895.8,740.6 L895.8,727.8 M904.1,740.6 L904.1,727.8 M895.8,734.2 L904.1,734.2 M909.1,740.6 L913.2,740.6 L915.3,738.5 L915.3,734.2 L913.2,732.1 L909.1,732.1 L907.0,734.2 L907.0,738.5 L909.1,740.6 M919.9,740.6 L919.9,727.8 M923.0,736.3 L931.3,736.3 L931.3,734.2 L929.2,732.1 L925.1,732.1 L923.0,734.2 L923.0,738.5 L925.1,740.6 L929.2,740.6 L931.3,738.9" fill="none" stroke="#222" stroke-width="1.05" stroke-linejoin="round" stroke-linecap="round"/>
<path d="M947.0,727.8 L947.0,740.6 L954.8,740.6 M965.0,740.6 L965.0,732.1 M965.0,734.2 L963.0,732.1 L959.1,732.1 L957.2,734.2 L957.2,738.5 L959.1,740.6 L963.0,740.6 L965.0,738.5 M967.5,732.1 L971.4,740.2 M975.4,732.1 L970.7,744.0 L968.7,744.9 M979.3,740.6 L983.2,740.6 L985.1,738.5 L985.1,734.2 L983.2,732.1 L979.3,732.1 L977.3,734.2 L977.3,738.5 L979.3,740.6 M987.7,732.1 L987.7,738.5 L989.6,740.6 L993.5,740.6 L995.5,738.5 M995.5,732.1 L995.5,740.6 M1000.6,727.8 L1000.6,738.5 L1002.3,740.6 L1004.3,740.6 M998.4,732.1 L1003.5,732.1" fill="none" stroke="#222" stroke-width="1.05" stroke-linejoin="round" stroke-linecap="round"/>
<circle cx="883.7" cy="828.7" r="7.4"/>
<circle cx="920.2" cy="828.7" r="7.4"/>
<circle cx="956.5" cy="828.7" r="7.4"/>
<circle cx="993" cy="828.7" r="7.4"/>
<circle cx="883.7" cy="865" r="7.4"/>
<circle cx="920.2" cy="865" r="7.4"/>
<circle cx="956.5" cy="865" r="7.4"/>
<circle cx="993" cy="865" r="7.4"/>
<line x1="883.7" y1="787.8" x2="883.7" y2="817.8"/>
<line x1="920.2" y1="787.8" x2="920.2" y2="817.8"/>
<line x1="883.7" y1="796.2" x2="973.1" y2="796.2"/>
<path d="M883.7,796.2 L891.0,794.0 L891.0,794.8 L896.2,794.8 L896.2,797.6 L891.0,797.6 L891.0,798.4 Z" fill="#222" stroke="none"/>
<path d="M920.2,796.2 L913.0,798.4 L913.0,797.6 L907.7,797.6 L907.7,794.8 L913.0,794.8 L913.0,794.0 Z" fill="#222" stroke="none"/>
<path d="M935.2,780.7 L937.2,778.6 L941.1,778.6 L943.0,780.7 L943.0,782.9 L935.2,791.4 L943.0,791.4 M947.1,791.4 L948.3,791.4 L948.3,790.1 L947.1,790.1 L947.1,791.4 M952.8,791.4 L956.7,791.4 L958.6,789.3 L958.6,780.7 L956.7,778.6 L952.8,778.6 L950.8,780.7 L950.8,789.3 L952.8,791.4 M963.3,791.4 L967.2,791.4 L969.2,789.3 L969.2,780.7 L967.2,778.6 L963.3,778.6 L961.4,780.7 L961.4,789.3 L963.3,791.4" fill="none" stroke="#222" stroke-width="1.05" stroke-linejoin="round" stroke-linecap="round"/>
<line x1="1032.8" y1="776.3" x2="1032.8" y2="865.0"/>
<line x1="1003.5" y1="828.7" x2="1039.7" y2="828.7"/>
<line x1="1003.5" y1="865.0" x2="1039.7" y2="865.0"/>
<path d="M1032.8,828.7 L1035.0,836.0 L1034.2,836.0 L1034.2,841.2 L1031.4,841.2 L1031.4,836.0 L1030.6,836.0 Z" fill="#222" stroke="none"/>
<path d="M1032.8,865.0 L1030.6,857.8 L1031.4,857.8 L1031.4,852.5 L1034.2,852.5 L1034.2,857.8 L1035.0,857.8 Z" fill="#222" stroke="none"/>
<path d="M1018.1,813.4 L1016.0,811.5 L1016.0,807.7 L1018.1,805.8 L1020.1,805.8 L1028.4,813.4 L1028.4,805.8 M1028.4,801.8 L1028.4,800.6 L1027.2,800.6 L1027.2,801.8 L1028.4,801.8 M1028.4,796.2 L1028.4,792.4 L1026.3,790.5 L1018.1,790.5 L1016.0,792.4 L1016.0,796.2 L1018.1,798.1 L1026.3,798.1 L1028.4,796.2 M1028.4,785.9 L1028.4,782.1 L1026.3,780.2 L1018.1,780.2 L1016.0,782.1 L1016.0,785.9 L1018.1,787.8 L1026.3,787.8 L1028.4,785.9" fill="none" stroke="#222" stroke-width="1.05" stroke-linejoin="round" stroke-linecap="round"/>
<line x1="858.8" y1="850.3" x2="964.7" y2="913.2"/>
<path d="M877.3,861.2 L870.0,859.4 L870.4,858.7 L865.9,856.0 L867.3,853.7 L871.8,856.3 L872.2,855.6 Z" fill="#222" stroke="none"/>
<path d="M890.1,868.8 L897.4,870.6 L897.0,871.3 L901.5,874.0 L900.1,876.3 L895.6,873.7 L895.2,874.4 Z" fill="#222" stroke="none"/>
<path d="M931.8,887.5 L934.9,889.3 L937.4,888.5 L940.6,883.3 L940.0,880.6 L936.9,878.8 L934.4,879.6 L931.2,884.8 L931.8,887.5 M928.8,887.6 L943.1,880.5 M940.4,892.7 L943.5,894.5 L946.1,893.7 L950.3,886.7 L949.8,884.0 L946.7,882.2 L944.1,883.0 L939.9,890.0 L940.4,892.7 M948.4,897.4 L949.3,897.9 L949.9,896.9 L949.0,896.3 L948.4,897.4 M956.2,894.4 L955.6,891.9 L956.5,890.4 L959.1,889.5 L962.2,891.4 L962.7,894.0 L961.8,895.6 L959.3,896.3 L956.2,894.4 L953.6,895.3 L952.3,897.4 L952.9,900.0 L956.0,901.9 L958.5,901.0 L959.8,898.9 L959.3,896.3 M972.1,897.3 L965.9,893.6 L963.4,897.8 L968.1,900.6 L968.6,903.2 L966.9,906.0 L964.3,906.8 L961.2,905.0 L960.7,902.3" fill="none" stroke="#222" stroke-width="1.05" stroke-linejoin="round" stroke-linecap="round"/>
<text x="1072.5" y="222.5" font-size="17.5" fill="#1c1c1c" stroke="none" textLength="103.0" lengthAdjust="spacingAndGlyphs">Mating with</text>
<line x1="1111.3" y1="237.3" x2="1111.3" y2="253.0"/>
<line x1="1113.7" y1="237.3" x2="1113.7" y2="253.0"/>
<line x1="1111.3" y1="237.3" x2="1113.7" y2="237.3"/>
<line x1="1136.3" y1="237.3" x2="1136.3" y2="253.0"/>
<line x1="1138.7" y1="237.3" x2="1138.7" y2="253.0"/>
<line x1="1136.3" y1="237.3" x2="1138.7" y2="237.3"/>
<path d="M1080.5,253 H1167.7 Q1160,260 1167.7,267.5 H1080.5 Q1088,260 1080.5,253 Z" fill="none"/>
<line x1="1098.2" y1="267.5" x2="1098.2" y2="270.3"/>
<line x1="1151.8" y1="267.5" x2="1151.8" y2="270.3"/>
<defs><clipPath id="hm"><path clip-rule="evenodd" d="M1096.2,270.3 H1154 V320.5 H1096.2 Z M1103.6,275.5 H1120.2 V314 H1103.6 Z M1128.4,275.5 H1145.5 V314 H1128.4 Z M1107.5,314 H1116.5 V320.5 H1107.5 Z M1132.5,314 H1141.5 V320.5 H1132.5 Z M1108,270.3 H1115 V275.5 H1108 Z M1134,270.3 H1141 V275.5 H1134 Z"/></clipPath></defs>
<g clip-path="url(#hm)" stroke-width="0.9">
<line x1="1094.2" y1="272.3" x2="1098.2" y2="268.3"/>
<line x1="1094.2" y1="280.8" x2="1106.7" y2="268.3"/>
<line x1="1094.2" y1="289.3" x2="1115.2" y2="268.3"/>
<line x1="1094.2" y1="297.8" x2="1123.7" y2="268.3"/>
<line x1="1094.2" y1="306.3" x2="1132.2" y2="268.3"/>
<line x1="1094.2" y1="314.8" x2="1140.7" y2="268.3"/>
<line x1="1094.2" y1="323.3" x2="1149.2" y2="268.3"/>
<line x1="1094.2" y1="331.8" x2="1157.7" y2="268.3"/>
<line x1="1094.2" y1="340.3" x2="1166.2" y2="268.3"/>
<line x1="1094.2" y1="348.8" x2="1174.7" y2="268.3"/>
<line x1="1094.2" y1="357.3" x2="1183.2" y2="268.3"/>
<line x1="1094.2" y1="365.8" x2="1191.7" y2="268.3"/>
<line x1="1094.2" y1="374.3" x2="1200.2" y2="268.3"/>
<line x1="1094.2" y1="382.8" x2="1208.7" y2="268.3"/>
</g>
<rect x="1096.2" y="270.3" width="57.8" height="50.2" fill="none" stroke-width="1.3"/>
<rect x="1103.6" y="275.5" width="16.6" height="38.5" fill="none" stroke-width="1.2"/>
<path d="M1104.6,312 V290 Q1104.8,287.5 1106.9,287.5 V310 H1116.9 V287.5 Q1119.0,287.5 1119.2,290 V312" fill="none" stroke-width="1.5"/>
<line x1="1107.4" y1="314.0" x2="1107.4" y2="320.5"/>
<line x1="1116.4" y1="314.0" x2="1116.4" y2="320.5"/>
<line x1="1107.4" y1="317.0" x2="1116.4" y2="317.0"/>
<rect x="1128.4" y="275.5" width="17.1" height="38.5" fill="none" stroke-width="1.2"/>
<path d="M1129.4,312 V290 Q1129.6,287.5 1131.7,287.5 V310 H1142.2 V287.5 Q1144.3,287.5 1144.5,290 V312" fill="none" stroke-width="1.5"/>
<line x1="1132.5" y1="314.0" x2="1132.5" y2="320.5"/>
<line x1="1141.5" y1="314.0" x2="1141.5" y2="320.5"/>
<line x1="1132.5" y1="317.0" x2="1141.5" y2="317.0"/>
<path d="M1112.5,270.3 L1108,274 L1106,275.5" fill="none"/>
<path d="M1137.5,270.3 L1142,274 L1144,275.5" fill="none"/>
<path d="M1102.4,351.3 L1148.9,351.3 L1148.9,374.6 L1142.3,374.6 L1142.3,370.2 L1108.8,370.2 L1108.8,374.6 L1102.4,374.6 Z" fill="none"/>
<line x1="1108.8" y1="351.3" x2="1108.8" y2="370.2"/>
<line x1="1142.3" y1="351.3" x2="1142.3" y2="370.2"/>
<path d="M1111.4,351.3 L1111.4,333.7 L1112.7,333.7 L1112.7,328.4 L1116.2,328.4 L1116.2,333.7 L1117.5,333.7 L1117.5,351.3" fill="none"/>
<line x1="1111.4" y1="333.7" x2="1117.5" y2="333.7" stroke-width="0.8"/>
<path d="M1111.4,370.4 L1111.4,400.8 L1112.7,400.8 L1112.7,406.2 L1116.2,406.2 L1116.2,400.8 L1117.5,400.8 L1117.5,370.4" fill="none"/>
<line x1="1111.4" y1="400.8" x2="1117.5" y2="400.8" stroke-width="0.8"/>
<path d="M1134.8,351.3 L1134.8,333.7 L1136.1,333.7 L1136.1,328.4 L1139.6,328.4 L1139.6,333.7 L1140.9,333.7 L1140.9,351.3" fill="none"/>
<line x1="1134.8" y1="333.7" x2="1140.9" y2="333.7" stroke-width="0.8"/>
<path d="M1134.8,370.4 L1134.8,400.8 L1136.1,400.8 L1136.1,406.2 L1139.6,406.2 L1139.6,400.8 L1140.9,400.8 L1140.9,370.4" fill="none"/>
<line x1="1134.8" y1="400.8" x2="1140.9" y2="400.8" stroke-width="0.8"/>
<path d="M1105.4,435.4 L1147.8,435.4 L1147.8,457.5 L1142.8,457.5 L1142.8,452.3 L1110.4,452.3 L1110.4,457.5 L1105.4,457.5 Z" fill="none"/>
<line x1="1115.8" y1="435.4" x2="1115.8" y2="452.3"/>
<line x1="1137.4" y1="435.4" x2="1137.4" y2="452.3"/>
<path d="M1105.4,467.4 L1147.8,467.4 L1147.8,488.4 L1142.8,488.4 L1142.8,483.4 L1110.4,483.4 L1110.4,488.4 L1105.4,488.4 Z" fill="none"/>
<line x1="1115.8" y1="467.4" x2="1115.8" y2="483.4"/>
<line x1="1137.4" y1="467.4" x2="1137.4" y2="483.4"/>
<path d="M1113.2,435.4 L1113.2,424.0 L1114.2,424.0 L1114.2,419.2 L1117.4,419.2 L1117.4,424.0 L1118.4,424.0 L1118.4,435.4" fill="none"/>
<line x1="1113.2" y1="424.0" x2="1118.4" y2="424.0" stroke-width="0.8"/>
<line x1="1113.2" y1="452.3" x2="1113.2" y2="467.4"/>
<line x1="1118.4" y1="452.3" x2="1118.4" y2="467.4"/>
<path d="M1113.2,483.4 L1113.2,513.3 L1114.2,513.3 L1114.2,518.7 L1117.4,518.7 L1117.4,513.3 L1118.4,513.3 L1118.4,483.4" fill="none"/>
<line x1="1113.2" y1="513.3" x2="1118.4" y2="513.3" stroke-width="0.8"/>
<path d="M1134.8,435.4 L1134.8,424.0 L1135.8,424.0 L1135.8,419.2 L1139.0,419.2 L1139.0,424.0 L1140.0,424.0 L1140.0,435.4" fill="none"/>
<line x1="1134.8" y1="424.0" x2="1140.0" y2="424.0" stroke-width="0.8"/>
<line x1="1134.8" y1="452.3" x2="1134.8" y2="467.4"/>
<line x1="1140.0" y1="452.3" x2="1140.0" y2="467.4"/>
<path d="M1134.8,483.4 L1134.8,513.3 L1135.8,513.3 L1135.8,518.7 L1139.0,518.7 L1139.0,513.3 L1140.0,513.3 L1140.0,483.4" fill="none"/>
<line x1="1134.8" y1="513.3" x2="1140.0" y2="513.3" stroke-width="0.8"/>
<rect x="1089.8" y="527.5" width="75.3" height="18.4" fill="#fff" stroke="none"/>
<text x="1094.1" y="541.9" font-size="14" fill="#1d2533" stroke="none" textLength="65.6" lengthAdjust="spacingAndGlyphs">MMFA2XX</text>
<path d="M1115.8,570.2 L1115.8,556.0 L1116.6,556.0 L1116.6,551.4 L1118.9,551.4 L1118.9,556.0 L1119.7,556.0 L1119.7,570.2" fill="none"/>
<line x1="1115.8" y1="556.0" x2="1119.7" y2="556.0" stroke-width="0.8"/>
<line x1="1115.8" y1="587.5" x2="1115.8" y2="599.4"/>
<line x1="1119.7" y1="587.5" x2="1119.7" y2="599.4"/>
<path d="M1132.4,570.2 L1132.4,556.0 L1133.2,556.0 L1133.2,551.4 L1135.5,551.4 L1135.5,556.0 L1136.3,556.0 L1136.3,570.2" fill="none"/>
<line x1="1132.4" y1="556.0" x2="1136.3" y2="556.0" stroke-width="0.8"/>
<line x1="1132.4" y1="587.5" x2="1132.4" y2="599.4"/>
<line x1="1136.3" y1="587.5" x2="1136.3" y2="599.4"/>
<rect x="1109.3" y="570.2" width="34.2" height="17.3" fill="none"/>
<rect x="1109.3" y="599.4" width="34.2" height="16.9" fill="none"/>
<rect x="1121.2" y="616.3" width="8.6" height="13.5" fill="none"/>
<path d="M1121.2,629.8 Q1125.5,633 1129.8,629.8" fill="none"/>
<path d="M1115.8,616.3 Q1115,622.2 1107,622.2 H1101 L1098.4,623.2 V625.6 L1101,626.5 H1108 Q1119,626.5 1119.7,616.3" fill="none"/>
<path d="M1136.3,616.3 Q1137,622.2 1145,622.2 H1151 L1153.6,623.2 V625.6 L1151,626.5 H1144 Q1133,626.5 1132.4,616.3" fill="none"/>
<rect x="1092.4" y="639.0" width="74.2" height="18.4" fill="#fff" stroke="none"/>
<text x="1093.7" y="653.5" font-size="14" fill="#1d2533" stroke="none" textLength="65.0" lengthAdjust="spacingAndGlyphs">MMFC2XX</text>
<path d="M1120.5,668.9 L1135.7,668.9 L1135.7,700.7 L1120.5,700.7 L1120.5,693.5 L1124.0,693.5 L1124.0,674.8 L1120.5,674.8 Z" fill="none"/>
<path d="M1135.7,675.4 L1147.6,675.4 L1147.6,676.4 L1151.5,676.4 L1151.5,678.7 L1147.6,678.7 L1147.6,679.7 L1135.7,679.7" fill="none"/>
<line x1="1147.6" y1="675.4" x2="1147.6" y2="679.7" stroke-width="0.8"/>
<path d="M1135.7,690.6 L1147.6,690.6 L1147.6,691.6 L1151.5,691.6 L1151.5,693.9 L1147.6,693.9 L1147.6,694.9 L1135.7,694.9" fill="none"/>
<line x1="1147.6" y1="690.6" x2="1147.6" y2="694.9" stroke-width="0.8"/>
<path d="M1124,675.4 H1104 Q1094.1,675.4 1094.1,685 V710.5" fill="none"/>
<path d="M1124,679.7 H1104.5 Q1098.4,679.7 1098.4,686 V710.5" fill="none"/>
<path d="M1124,690.6 H1118 Q1111,690.6 1111,698 V710.5" fill="none"/>
<path d="M1124,694.9 H1119 Q1114.7,694.9 1114.7,699.5 V710.5" fill="none"/>
<rect x="1089.4" y="710.5" width="30.3" height="14.7" fill="none"/>
<line x1="1096.8" y1="710.5" x2="1096.8" y2="725.2"/>
<line x1="1112.0" y1="710.5" x2="1112.0" y2="725.2"/>
<line x1="1089.4" y1="713.0" x2="1092.3" y2="713.0"/>
<line x1="1092.3" y1="710.5" x2="1092.3" y2="713.0"/>
<line x1="1116.8" y1="710.5" x2="1116.8" y2="713.0"/>
<line x1="1116.8" y1="713.0" x2="1119.7" y2="713.0"/>
<path d="M1094.1,725.2 L1094.1,734.3 L1094.9,734.3 L1094.9,737.5 L1097.6,737.5 L1097.6,734.3 L1098.4,734.3 L1098.4,725.2" fill="none"/>
<line x1="1094.1" y1="734.3" x2="1098.4" y2="734.3" stroke-width="0.8"/>
<path d="M1110.4,725.2 L1110.4,734.3 L1111.2,734.3 L1111.2,737.5 L1113.3,737.5 L1113.3,734.3 L1114.1,734.3 L1114.1,725.2" fill="none"/>
<line x1="1110.4" y1="734.3" x2="1114.1" y2="734.3" stroke-width="0.8"/>
<rect x="1083.3" y="746.2" width="70.3" height="18.4" fill="#fff" stroke="none"/>
<text x="1087.6" y="760.7" font-size="14" fill="#1d2533" stroke="none" textLength="64.0" lengthAdjust="spacingAndGlyphs">MMFB203</text>
<path d="M1088.0,781.9 L1096.7,772.2 L1124.0,772.2 L1124.0,809.0 L1088.0,809.0 Z" fill="none"/>
<path d="M1124.0,779.3 L1147.6,779.3 L1147.6,780.3 L1151.5,780.3 L1151.5,782.6 L1147.6,782.6 L1147.6,783.6 L1124.0,783.6" fill="none"/>
<line x1="1147.6" y1="779.3" x2="1147.6" y2="783.6" stroke-width="0.8"/>
<path d="M1124.0,796.0 L1147.6,796.0 L1147.6,797.0 L1151.5,797.0 L1151.5,799.3 L1147.6,799.3 L1147.6,800.3 L1124.0,800.3" fill="none"/>
<line x1="1147.6" y1="796.0" x2="1147.6" y2="800.3" stroke-width="0.8"/>
<path d="M1088.7,809.0 L1088.7,825.2 L1089.5,825.2 L1089.5,829.5 L1092.2,829.5 L1092.2,825.2 L1093.0,825.2 L1093.0,809.0" fill="none"/>
<line x1="1088.7" y1="825.2" x2="1093.0" y2="825.2" stroke-width="0.8"/>
<path d="M1106.0,809.0 L1106.0,825.2 L1106.8,825.2 L1106.8,829.5 L1109.5,829.5 L1109.5,825.2 L1110.3,825.2 L1110.3,809.0" fill="none"/>
<line x1="1106.0" y1="825.2" x2="1110.3" y2="825.2" stroke-width="0.8"/>
<rect x="1082.2" y="833.4" width="68.2" height="21.0" fill="#fff" stroke="none"/>
<text x="1082.9" y="849.0" font-size="14" fill="#1d2533" stroke="none" textLength="63.6" lengthAdjust="spacingAndGlyphs">MMFB215</text>
<path d="M1108.3,896.6 L1108.3,866.0 L1109.3,866.0 L1109.3,861.0 L1112.4,861.0 L1112.4,866.0 L1113.4,866.0 L1113.4,896.6" fill="none"/>
<line x1="1108.3" y1="866.0" x2="1113.4" y2="866.0" stroke-width="0.8"/>
<path d="M1129.3,896.6 L1129.3,866.0 L1130.3,866.0 L1130.3,861.0 L1133.4,861.0 L1133.4,866.0 L1134.4,866.0 L1134.4,896.6" fill="none"/>
<line x1="1129.3" y1="866.0" x2="1134.4" y2="866.0" stroke-width="0.8"/>
<rect x="1101.5" y="896.6" width="39.6" height="19.6" fill="none"/>
<path d="M1101.5,912.8 H1093.5 L1091,914 V917.4 L1093.5,918.6 H1111.3 V916.2" fill="none"/>
<path d="M1141.1,912.8 H1149.5 L1152,914 V917.4 L1149.5,918.6 H1131 V916.2" fill="none"/>
<rect x="1116.4" y="916.2" width="10.2" height="9.5" fill="none"/>
<path d="M1116.4,925.7 Q1121.5,929 1126.6,925.7" fill="none"/>
<rect x="1078.1" y="934.9" width="76.6" height="17.6" fill="#fff" stroke="none"/>
<text x="1082.5" y="949.1" font-size="14" fill="#1d2533" stroke="none" textLength="65.4" lengthAdjust="spacingAndGlyphs">MMFC2XX</text>
<path d="M1107.3,967.7 L1124.2,967.7 L1124.2,1000.9 L1107.3,1000.9 L1107.3,997.0 L1110.3,997.0 L1110.3,972.5 L1107.3,972.5 Z" fill="none"/>
<path d="M1124.2,974.5 L1146.9,974.5 L1146.9,975.5 L1152.0,975.5 L1152.0,977.9 L1146.9,977.9 L1146.9,978.9 L1124.2,978.9" fill="none"/>
<line x1="1146.9" y1="974.5" x2="1146.9" y2="978.9" stroke-width="0.8"/>
<path d="M1124.2,990.7 L1146.9,990.7 L1146.9,991.7 L1152.0,991.7 L1152.0,994.8 L1146.9,994.8 L1146.9,995.8 L1124.2,995.8" fill="none"/>
<line x1="1146.9" y1="990.7" x2="1146.9" y2="995.8" stroke-width="0.8"/>
<path d="M1110.3,974.5 H1089 Q1079.8,974.5 1079.8,983 V1014" fill="none"/>
<path d="M1110.3,978.9 H1090 Q1083.6,978.9 1083.6,985 V1014" fill="none"/>
<path d="M1110.3,990.7 H1104 Q1096.8,990.7 1096.8,997 V1014" fill="none"/>
<path d="M1110.3,995.8 H1104.5 Q1100.5,995.8 1100.5,999.5 V1014" fill="none"/>
<rect x="1080.4" y="1014.0" width="2.6" height="3.2" fill="none"/>
<rect x="1097.4" y="1014.0" width="2.6" height="3.2" fill="none"/>
<rect x="1080.8" y="1019.5" width="72.9" height="18.7" fill="#fff" stroke="none"/>
<text x="1084.2" y="1033.8" font-size="14" fill="#1d2533" stroke="none" textLength="64.4" lengthAdjust="spacingAndGlyphs">MMFB2XX</text>
<rect x="1005.3" y="963.6" width="22.4" height="44.1" fill="none"/>
<path d="M1027.7,972.8 L1052.0,972.8 L1052.0,973.8 L1057.8,973.8 L1057.8,976.9 L1052.0,976.9 L1052.0,977.9 L1027.7,977.9" fill="none"/>
<line x1="1052.0" y1="972.8" x2="1052.0" y2="977.9" stroke-width="0.8"/>
<path d="M1027.7,994.1 L1052.0,994.1 L1052.0,995.1 L1057.8,995.1 L1057.8,998.2 L1052.0,998.2 L1052.0,999.2 L1027.7,999.2" fill="none"/>
<line x1="1052.0" y1="994.1" x2="1052.0" y2="999.2" stroke-width="0.8"/>
<path d="M1005.3,972.8 H976 Q970,972.8 967,978 L957,996 Q954,1002.6 948,1002.6 H941 L937.9,1003.6 V1006.7 L941,1007.7 H950 Q957,1007.7 960.5,1001 L970.5,983 Q973,977.9 979,977.9 H1005.3" fill="none"/>
<path d="M1005.3,994.1 H1001 Q997,994.1 994.5,997 L991.5,1000.5 Q989.5,1002.6 986,1002.6 H979 L975.8,1003.6 V1006.7 L979,1007.7 H988 Q993,1007.7 996,1004 L998.5,1001 Q1000.5,999.2 1003,999.2 H1005.3" fill="none"/>
<rect x="974.1" y="1022.2" width="71.2" height="17.7" fill="#fff" stroke="none"/>
<text x="978.5" y="1036.5" font-size="14" fill="#1d2533" stroke="none" textLength="65.1" lengthAdjust="spacingAndGlyphs">MMFD201</text>
<path d="M864.4,965.3 L907.1,965.3 L907.1,994.1 L897.2,1004.3 L864.4,1004.3 Z" fill="none"/>
<path d="M874.2,965.3 L874.2,950.3 L875.2,950.3 L875.2,945.0 L878.3,945.0 L878.3,950.3 L879.3,950.3 L879.3,965.3" fill="none"/>
<line x1="874.2" y1="950.3" x2="879.3" y2="950.3" stroke-width="0.8"/>
<path d="M874.2,1004.3 L874.2,1016.2 L875.2,1016.2 L875.2,1021.2 L878.3,1021.2 L878.3,1016.2 L879.3,1016.2 L879.3,1004.3" fill="none"/>
<line x1="874.2" y1="1016.2" x2="879.3" y2="1016.2" stroke-width="0.8"/>
<path d="M893.8,965.3 L893.8,950.3 L894.8,950.3 L894.8,945.0 L897.9,945.0 L897.9,950.3 L898.9,950.3 L898.9,965.3" fill="none"/>
<line x1="893.8" y1="950.3" x2="898.9" y2="950.3" stroke-width="0.8"/>
<path d="M893.8,1004.3 L893.8,1016.2 L894.8,1016.2 L894.8,1021.2 L897.9,1021.2 L897.9,1016.2 L898.9,1016.2 L898.9,1004.3" fill="none"/>
<line x1="893.8" y1="1016.2" x2="898.9" y2="1016.2" stroke-width="0.8"/>
<rect x="848.1" y="1022.2" width="70.1" height="18.3" fill="#fff" stroke="none"/>
<text x="852.2" y="1036.5" font-size="14" fill="#1d2533" stroke="none" textLength="65.0" lengthAdjust="spacingAndGlyphs">MMFA215</text>
<!--MATE-->
<filter id="bl" x="-5%" y="-5%" width="110%" height="110%"><feGaussianBlur stdDeviation="0.55"/></filter>
<g stroke="none" filter="url(#bl)">
<defs><linearGradient id="pg" x1="0" x2="1" y1="0" y2="0"><stop offset="0" stop-color="#c2a92a"/><stop offset="0.45" stop-color="#eedb4c"/><stop offset="0.75" stop-color="#e0c93a"/><stop offset="1" stop-color="#b9a028"/></linearGradient><linearGradient id="pg2" x1="0" x2="1" y1="0" y2="0"><stop offset="0" stop-color="#dcc526"/><stop offset="0.5" stop-color="#fbe83a"/><stop offset="1" stop-color="#d2ba24"/></linearGradient><linearGradient id="tf" x1="0" x2="1" y1="0" y2="0"><stop offset="0" stop-color="#4b5355"/><stop offset="1" stop-color="#5b6365"/></linearGradient><linearGradient id="ff" x1="0" x2="1" y1="0" y2="0"><stop offset="0" stop-color="#2b3335"/><stop offset="1" stop-color="#262e30"/></linearGradient></defs>
<path d="M682.5,380 V412.2 Q682.5,415.2 687.0,415.2 Q691.5,415.2 691.5,412.2 V380 Z" fill="url(#pg)"/>
<path d="M710.2,394 V426 Q710.2,429 714.85,429 Q719.5,429 719.5,426 V394 Z" fill="url(#pg)"/>
<path d="M738.1,408 V439.7 Q738.1,442.7 742.9000000000001,442.7 Q747.7,442.7 747.7,439.7 V408 Z" fill="url(#pg)"/>
<path d="M765.6,422 V454.2 Q765.6,457.2 770.6500000000001,457.2 Q775.7,457.2 775.7,454.2 V422 Z" fill="url(#pg)"/>
<path d="M793.5,436 V467.6 Q793.5,470.6 798.3,470.6 Q803.1,470.6 803.1,467.6 V436 Z" fill="url(#pg)"/>
<path d="M821.8,450 V481.6 Q821.8,484.6 826.5999999999999,484.6 Q831.4,484.6 831.4,481.6 V450 Z" fill="url(#pg)"/>
<path d="M849.2,464 V495.9 Q849.2,498.9 854.25,498.9 Q859.3,498.9 859.3,495.9 V464 Z" fill="url(#pg)"/>
<path d="M877.2,478 V509.6 Q877.2,512.6 882.1,512.6 Q887,512.6 887,509.6 V478 Z" fill="url(#pg)"/>
<path d="M904.9,492 V523.3 Q904.9,526.3 909.95,526.3 Q915,526.3 915,523.3 V492 Z" fill="url(#pg)"/>
<path d="M960.9,470 V522 Q960.9,525.5 965.2,525.5 Q969.6,525.5 969.6,522 V470 Z" fill="url(#pg2)"/>
<path d="M932.3,485 V536 Q932.3,540 937.1,540 Q942,540 942,536 V485 Z" fill="url(#pg2)"/>
<path d="M651.5,300.9 L918.7,432.8 L917.8,501.1 L651.5,367.3 Z" fill="url(#ff)"/>
<path d="M651.5,300.9 L715.3,267.9 L980.7,402.3 L918.7,432.8 Z" fill="url(#tf)"/>
<path d="M918.7,432.8 L980.7,402.3 L980.7,455 L950,470 L927,497 L917.8,501.1 Z" fill="#3a4143"/>
<path d="M926,436 L952,423 L954,470 L928,484 Z" fill="#232a2c"/>
<path d="M955,421 L978,410 L979,452 L956,466 Z" fill="#232a2c"/>
<path d="M683.8,297.5 L687.1,292.1 L704.6,299.5 L697.5,303.7 L688.4,306.9 L684.5,304.3 Z" fill="#555d5f"/>
<path d="M687.1,292.1 L704.6,299.5 L697.5,303.7 L685.8,298.2 Z" fill="#8c9394"/>
<path d="M685.2,300.1 L695.2,304.0 L688.4,306.9 L684.9,304.3 Z" fill="#1e2628"/>
<path d="M711.4,311.5 L714.7,306.1 L732.2,313.5 L725.1,317.7 L716.0,320.9 L712.1,318.3 Z" fill="#555d5f"/>
<path d="M714.7,306.1 L732.2,313.5 L725.1,317.7 L713.4,312.2 Z" fill="#8c9394"/>
<path d="M712.8,314.1 L722.8,318.0 L716.0,320.9 L712.5,318.3 Z" fill="#1e2628"/>
<path d="M739.0,325.5 L742.3,320.1 L759.8,327.5 L752.7,331.7 L743.6,334.9 L739.7,332.3 Z" fill="#555d5f"/>
<path d="M742.3,320.1 L759.8,327.5 L752.7,331.7 L741.0,326.2 Z" fill="#8c9394"/>
<path d="M740.4,328.1 L750.4,332.0 L743.6,334.9 L740.1,332.3 Z" fill="#1e2628"/>
<path d="M766.6,339.6 L769.9,334.2 L787.4,341.6 L780.3,345.8 L771.2,349.0 L767.3,346.4 Z" fill="#555d5f"/>
<path d="M769.9,334.2 L787.4,341.6 L780.3,345.8 L768.6,340.3 Z" fill="#8c9394"/>
<path d="M768.0,342.2 L778.0,346.1 L771.2,349.0 L767.7,346.4 Z" fill="#1e2628"/>
<path d="M794.2,353.6 L797.5,348.2 L815.0,355.6 L807.9,359.8 L798.8,363.0 L794.9,360.4 Z" fill="#555d5f"/>
<path d="M797.5,348.2 L815.0,355.6 L807.9,359.8 L796.2,354.3 Z" fill="#8c9394"/>
<path d="M795.6,356.2 L805.6,360.1 L798.8,363.0 L795.3,360.4 Z" fill="#1e2628"/>
<path d="M821.8,367.6 L825.1,362.2 L842.6,369.6 L835.5,373.8 L826.4,377.0 L822.5,374.4 Z" fill="#555d5f"/>
<path d="M825.1,362.2 L842.6,369.6 L835.5,373.8 L823.8,368.3 Z" fill="#8c9394"/>
<path d="M823.2,370.2 L833.2,374.1 L826.4,377.0 L822.9,374.4 Z" fill="#1e2628"/>
<path d="M849.4,381.6 L852.7,376.2 L870.2,383.6 L863.1,387.8 L854.0,391.0 L850.1,388.4 Z" fill="#555d5f"/>
<path d="M852.7,376.2 L870.2,383.6 L863.1,387.8 L851.4,382.3 Z" fill="#8c9394"/>
<path d="M850.8,384.2 L860.8,388.1 L854.0,391.0 L850.5,388.4 Z" fill="#1e2628"/>
<path d="M877.0,395.6 L880.3,390.2 L897.8,397.6 L890.7,401.8 L881.6,405.0 L877.7,402.4 Z" fill="#555d5f"/>
<path d="M880.3,390.2 L897.8,397.6 L890.7,401.8 L879.0,396.3 Z" fill="#8c9394"/>
<path d="M878.4,398.2 L888.4,402.1 L881.6,405.0 L878.1,402.4 Z" fill="#1e2628"/>
<path d="M904.6,409.7 L907.9,404.3 L925.4,411.7 L918.3,415.9 L909.2,419.1 L905.3,416.5 Z" fill="#555d5f"/>
<path d="M907.9,404.3 L925.4,411.7 L918.3,415.9 L906.6,410.4 Z" fill="#8c9394"/>
<path d="M906.0,412.3 L916.0,416.2 L909.2,419.1 L905.7,416.5 Z" fill="#1e2628"/>
<path d="M711.3,283.9 L714.6,278.5 L732.1,285.9 L725.0,290.1 L715.9,293.3 L712.0,290.7 Z" fill="#555d5f"/>
<path d="M714.6,278.5 L732.1,285.9 L725.0,290.1 L713.3,284.6 Z" fill="#8c9394"/>
<path d="M712.7,286.5 L722.7,290.4 L715.9,293.3 L712.4,290.7 Z" fill="#1e2628"/>
<path d="M738.9,297.9 L742.2,292.5 L759.7,299.9 L752.6,304.1 L743.5,307.3 L739.6,304.7 Z" fill="#555d5f"/>
<path d="M742.2,292.5 L759.7,299.9 L752.6,304.1 L740.9,298.6 Z" fill="#8c9394"/>
<path d="M740.3,300.5 L750.3,304.4 L743.5,307.3 L740.0,304.7 Z" fill="#1e2628"/>
<path d="M766.5,311.9 L769.8,306.5 L787.3,313.9 L780.2,318.1 L771.1,321.3 L767.2,318.7 Z" fill="#555d5f"/>
<path d="M769.8,306.5 L787.3,313.9 L780.2,318.1 L768.5,312.6 Z" fill="#8c9394"/>
<path d="M767.9,314.5 L777.9,318.4 L771.1,321.3 L767.6,318.7 Z" fill="#1e2628"/>
<path d="M794.1,326.0 L797.4,320.6 L814.9,328.0 L807.8,332.2 L798.7,335.4 L794.8,332.8 Z" fill="#555d5f"/>
<path d="M797.4,320.6 L814.9,328.0 L807.8,332.2 L796.1,326.7 Z" fill="#8c9394"/>
<path d="M795.5,328.6 L805.5,332.5 L798.7,335.4 L795.2,332.8 Z" fill="#1e2628"/>
<path d="M821.7,340.0 L825.0,334.6 L842.5,342.0 L835.4,346.2 L826.3,349.4 L822.4,346.8 Z" fill="#555d5f"/>
<path d="M825.0,334.6 L842.5,342.0 L835.4,346.2 L823.7,340.7 Z" fill="#8c9394"/>
<path d="M823.1,342.6 L833.1,346.5 L826.3,349.4 L822.8,346.8 Z" fill="#1e2628"/>
<path d="M849.3,354.0 L852.6,348.6 L870.1,356.0 L863.0,360.2 L853.9,363.4 L850.0,360.8 Z" fill="#555d5f"/>
<path d="M852.6,348.6 L870.1,356.0 L863.0,360.2 L851.3,354.7 Z" fill="#8c9394"/>
<path d="M850.7,356.6 L860.7,360.5 L853.9,363.4 L850.4,360.8 Z" fill="#1e2628"/>
<path d="M876.9,368.0 L880.2,362.6 L897.7,370.0 L890.6,374.2 L881.5,377.4 L877.6,374.8 Z" fill="#555d5f"/>
<path d="M880.2,362.6 L897.7,370.0 L890.6,374.2 L878.9,368.7 Z" fill="#8c9394"/>
<path d="M878.3,370.6 L888.3,374.5 L881.5,377.4 L878.0,374.8 Z" fill="#1e2628"/>
<path d="M904.5,382.0 L907.8,376.6 L925.3,384.0 L918.2,388.2 L909.1,391.4 L905.2,388.8 Z" fill="#555d5f"/>
<path d="M907.8,376.6 L925.3,384.0 L918.2,388.2 L906.5,382.7 Z" fill="#8c9394"/>
<path d="M905.9,384.6 L915.9,388.5 L909.1,391.4 L905.6,388.8 Z" fill="#1e2628"/>
<path d="M932.1,396.1 L935.4,390.7 L952.9,398.1 L945.8,402.3 L936.7,405.5 L932.8,402.9 Z" fill="#555d5f"/>
<path d="M935.4,390.7 L952.9,398.1 L945.8,402.3 L934.1,396.8 Z" fill="#8c9394"/>
<path d="M933.5,398.7 L943.5,402.6 L936.7,405.5 L933.2,402.9 Z" fill="#1e2628"/>
<path d="M927,438 L933.5,434 L938,436.5 L939.5,440 L946,437 L951.5,438.5 L954.5,466 L955,485 L944,492.5 L942,495 L932.3,495 L927,490 Z" fill="#f3de34"/>
<path d="M927,440 L930.5,438.5 L931.5,486 L927,489 Z" fill="#cbb428"/>
<path d="M935,440 L938.5,441 L936.5,452 L940.5,470 L936,472 L933,452 Z" fill="#cdb626"/>
<path d="M938.5,441 L946,437.5 L947,445 L941,469.5 L936.5,452 Z" fill="#fff060"/>
<path d="M954.5,425 L960,420 L966,419.5 L967.5,426 L972,420 L977.5,419 L980.8,450 L981.5,470 L972,477 L969.6,479.5 L960.9,480 L956.5,468.5 L955,466 Z" fill="#f5e036"/>
<path d="M962,424 L965.5,425 L964,436 L967.5,458 L963.5,460 L960.5,437 Z" fill="#cdb626"/>
<path d="M965.5,425 L972.5,421 L974.5,429 L969,457 L964,436 Z" fill="#fff060"/>
<path d="M956.5,468 L961.5,466.5 L962.5,476 L958,478 Z" fill="#20272a"/>
</g>
</svg>
<div class="r" style="left:82.1px;top:1055.2px;width:267.9px;height:285.4px;background:#1c2a2b;"></div>
<div class="c" style="left:85.0px;top:1058.0px;width:82.7px;height:43.9px;background:#c2e0dc;"><span style="top:2.5px;font-size:16px">No. of</span><span style="top:23.5px;font-size:16px">Pins/Row</span></div>
<div class="c" style="left:170.6px;top:1058.0px;width:176.7px;height:19.7px;background:#c2e0dc;"><span style="top:2.5px;font-size:16px">Dimension Information</span></div>
<div class="c" style="left:170.6px;top:1080.6px;width:87.1px;height:21.3px;background:#c2e0dc;"><span style="top:3.2px;font-size:17px">A</span></div>
<div class="c" style="left:260.6px;top:1080.6px;width:86.7px;height:21.3px;background:#c2e0dc;"><span style="top:3.2px;font-size:17px">C</span></div>
<div class="c" style="left:85.0px;top:1104.8px;width:82.7px;height:20.8px;background:#fff;"><span style="top:3.8px;font-size:16px">02</span></div>
<div class="c" style="left:170.6px;top:1104.8px;width:87.1px;height:20.8px;background:#fff;"><span style="top:3.8px;font-size:16px">2.00</span></div>
<div class="c" style="left:260.6px;top:1104.8px;width:86.7px;height:20.8px;background:#fff;"><span style="top:3.8px;font-size:16px">4.60</span></div>
<div class="c" style="left:85.0px;top:1128.5px;width:82.7px;height:20.8px;background:#c2e0dc;"><span style="top:3.8px;font-size:16px">03</span></div>
<div class="c" style="left:170.6px;top:1128.5px;width:87.1px;height:20.8px;background:#c2e0dc;"><span style="top:3.8px;font-size:16px">4.00</span></div>
<div class="c" style="left:260.6px;top:1128.5px;width:86.7px;height:20.8px;background:#c2e0dc;"><span style="top:3.8px;font-size:16px">6.60</span></div>
<div class="c" style="left:85.0px;top:1152.2px;width:82.7px;height:20.8px;background:#fff;"><span style="top:3.8px;font-size:16px">04</span></div>
<div class="c" style="left:170.6px;top:1152.2px;width:87.1px;height:20.8px;background:#fff;"><span style="top:3.8px;font-size:16px">6.00</span></div>
<div class="c" style="left:260.6px;top:1152.2px;width:86.7px;height:20.8px;background:#fff;"><span style="top:3.8px;font-size:16px">8.60</span></div>
<div class="c" style="left:85.0px;top:1176.0px;width:82.7px;height:20.8px;background:#c2e0dc;"><span style="top:3.8px;font-size:16px">05</span></div>
<div class="c" style="left:170.6px;top:1176.0px;width:87.1px;height:20.8px;background:#c2e0dc;"><span style="top:3.8px;font-size:16px">8.00</span></div>
<div class="c" style="left:260.6px;top:1176.0px;width:86.7px;height:20.8px;background:#c2e0dc;"><span style="top:3.8px;font-size:16px">10.60</span></div>
<div class="c" style="left:85.0px;top:1199.7px;width:82.7px;height:20.8px;background:#fff;"><span style="top:3.8px;font-size:16px">06</span></div>
<div class="c" style="left:170.6px;top:1199.7px;width:87.1px;height:20.8px;background:#fff;"><span style="top:3.8px;font-size:16px">10.00</span></div>
<div class="c" style="left:260.6px;top:1199.7px;width:86.7px;height:20.8px;background:#fff;"><span style="top:3.8px;font-size:16px">12.60</span></div>
<div class="c" style="left:85.0px;top:1223.4px;width:82.7px;height:20.8px;background:#c2e0dc;"><span style="top:3.8px;font-size:16px">07</span></div>
<div class="c" style="left:170.6px;top:1223.4px;width:87.1px;height:20.8px;background:#c2e0dc;"><span style="top:3.8px;font-size:16px">12.00</span></div>
<div class="c" style="left:260.6px;top:1223.4px;width:86.7px;height:20.8px;background:#c2e0dc;"><span style="top:3.8px;font-size:16px">14.60</span></div>
<div class="c" style="left:85.0px;top:1247.1px;width:82.7px;height:20.8px;background:#fff;"><span style="top:3.8px;font-size:16px">08</span></div>
<div class="c" style="left:170.6px;top:1247.1px;width:87.1px;height:20.8px;background:#fff;"><span style="top:3.8px;font-size:16px">14.00</span></div>
<div class="c" style="left:260.6px;top:1247.1px;width:86.7px;height:20.8px;background:#fff;"><span style="top:3.8px;font-size:16px">16.60</span></div>
<div class="c" style="left:85.0px;top:1270.8px;width:82.7px;height:20.8px;background:#c2e0dc;"><span style="top:3.8px;font-size:16px">09</span></div>
<div class="c" style="left:170.6px;top:1270.8px;width:87.1px;height:20.8px;background:#c2e0dc;"><span style="top:3.8px;font-size:16px">16.00</span></div>
<div class="c" style="left:260.6px;top:1270.8px;width:86.7px;height:20.8px;background:#c2e0dc;"><span style="top:3.8px;font-size:16px">18.60</span></div>
<div class="c" style="left:85.0px;top:1294.6px;width:82.7px;height:20.8px;background:#fff;"><span style="top:3.8px;font-size:16px">10</span></div>
<div class="c" style="left:170.6px;top:1294.6px;width:87.1px;height:20.8px;background:#fff;"><span style="top:3.8px;font-size:16px">18.00</span></div>
<div class="c" style="left:260.6px;top:1294.6px;width:86.7px;height:20.8px;background:#fff;"><span style="top:3.8px;font-size:16px">20.60</span></div>
<div class="c" style="left:85.0px;top:1318.3px;width:82.7px;height:19.6px;background:#c2e0dc;"><span style="top:3.8px;font-size:16px">11</span></div>
<div class="c" style="left:170.6px;top:1318.3px;width:87.1px;height:19.6px;background:#c2e0dc;"><span style="top:3.8px;font-size:16px">20.00</span></div>
<div class="c" style="left:260.6px;top:1318.3px;width:86.7px;height:19.6px;background:#c2e0dc;"><span style="top:3.8px;font-size:16px">22.60</span></div>
<div class="r" style="left:355.5px;top:1055.2px;width:267.9px;height:285.4px;background:#1c2a2b;"></div>
<div class="c" style="left:358.4px;top:1058.0px;width:82.7px;height:43.9px;background:#c2e0dc;"><span style="top:2.5px;font-size:16px">No. of</span><span style="top:23.5px;font-size:16px">Pins/Row</span></div>
<div class="c" style="left:444.0px;top:1058.0px;width:176.7px;height:19.7px;background:#c2e0dc;"><span style="top:2.5px;font-size:16px">Dimension Information</span></div>
<div class="c" style="left:444.0px;top:1080.6px;width:87.1px;height:21.3px;background:#c2e0dc;"><span style="top:3.2px;font-size:17px">A</span></div>
<div class="c" style="left:534.0px;top:1080.6px;width:86.7px;height:21.3px;background:#c2e0dc;"><span style="top:3.2px;font-size:17px">C</span></div>
<div class="c" style="left:358.4px;top:1104.8px;width:82.7px;height:20.8px;background:#fff;"><span style="top:3.8px;font-size:16px">12</span></div>
<div class="c" style="left:444.0px;top:1104.8px;width:87.1px;height:20.8px;background:#fff;"><span style="top:3.8px;font-size:16px">22.00</span></div>
<div class="c" style="left:534.0px;top:1104.8px;width:86.7px;height:20.8px;background:#fff;"><span style="top:3.8px;font-size:16px">24.60</span></div>
<div class="c" style="left:358.4px;top:1128.5px;width:82.7px;height:20.8px;background:#c2e0dc;"><span style="top:3.8px;font-size:16px">13</span></div>
<div class="c" style="left:444.0px;top:1128.5px;width:87.1px;height:20.8px;background:#c2e0dc;"><span style="top:3.8px;font-size:16px">24.00</span></div>
<div class="c" style="left:534.0px;top:1128.5px;width:86.7px;height:20.8px;background:#c2e0dc;"><span style="top:3.8px;font-size:16px">26.60</span></div>
<div class="c" style="left:358.4px;top:1152.2px;width:82.7px;height:20.8px;background:#fff;"><span style="top:3.8px;font-size:16px">14</span></div>
<div class="c" style="left:444.0px;top:1152.2px;width:87.1px;height:20.8px;background:#fff;"><span style="top:3.8px;font-size:16px">24.00</span></div>
<div class="c" style="left:534.0px;top:1152.2px;width:86.7px;height:20.8px;background:#fff;"><span style="top:3.8px;font-size:16px">28.60</span></div>
<div class="c" style="left:358.4px;top:1176.0px;width:82.7px;height:20.8px;background:#c2e0dc;"><span style="top:3.8px;font-size:16px">15</span></div>
<div class="c" style="left:444.0px;top:1176.0px;width:87.1px;height:20.8px;background:#c2e0dc;"><span style="top:3.8px;font-size:16px">24.00</span></div>
<div class="c" style="left:534.0px;top:1176.0px;width:86.7px;height:20.8px;background:#c2e0dc;"><span style="top:3.8px;font-size:16px">30.60</span></div>
<div class="c" style="left:358.4px;top:1199.7px;width:82.7px;height:20.8px;background:#fff;"><span style="top:3.8px;font-size:16px">16</span></div>
<div class="c" style="left:444.0px;top:1199.7px;width:87.1px;height:20.8px;background:#fff;"><span style="top:3.8px;font-size:16px">24.00</span></div>
<div class="c" style="left:534.0px;top:1199.7px;width:86.7px;height:20.8px;background:#fff;"><span style="top:3.8px;font-size:16px">32.60</span></div>
<div class="c" style="left:358.4px;top:1223.4px;width:82.7px;height:20.8px;background:#c2e0dc;"><span style="top:3.8px;font-size:16px">17</span></div>
<div class="c" style="left:444.0px;top:1223.4px;width:87.1px;height:20.8px;background:#c2e0dc;"><span style="top:3.8px;font-size:16px">24.00</span></div>
<div class="c" style="left:534.0px;top:1223.4px;width:86.7px;height:20.8px;background:#c2e0dc;"><span style="top:3.8px;font-size:16px">34.60</span></div>
<div class="c" style="left:358.4px;top:1247.1px;width:82.7px;height:20.8px;background:#fff;"><span style="top:3.8px;font-size:16px">18</span></div>
<div class="c" style="left:444.0px;top:1247.1px;width:87.1px;height:20.8px;background:#fff;"><span style="top:3.8px;font-size:16px">24.00</span></div>
<div class="c" style="left:534.0px;top:1247.1px;width:86.7px;height:20.8px;background:#fff;"><span style="top:3.8px;font-size:16px">36.60</span></div>
<div class="c" style="left:358.4px;top:1270.8px;width:82.7px;height:20.8px;background:#c2e0dc;"><span style="top:3.8px;font-size:16px">19</span></div>
<div class="c" style="left:444.0px;top:1270.8px;width:87.1px;height:20.8px;background:#c2e0dc;"><span style="top:3.8px;font-size:16px">24.00</span></div>
<div class="c" style="left:534.0px;top:1270.8px;width:86.7px;height:20.8px;background:#c2e0dc;"><span style="top:3.8px;font-size:16px">38.60</span></div>
<div class="c" style="left:358.4px;top:1294.6px;width:82.7px;height:20.8px;background:#fff;"><span style="top:3.8px;font-size:16px">20</span></div>
<div class="c" style="left:444.0px;top:1294.6px;width:87.1px;height:20.8px;background:#fff;"><span style="top:3.8px;font-size:16px">24.00</span></div>
<div class="c" style="left:534.0px;top:1294.6px;width:86.7px;height:20.8px;background:#fff;"><span style="top:3.8px;font-size:16px">40.60</span></div>
<div class="c" style="left:358.4px;top:1318.3px;width:82.7px;height:19.6px;background:#c2e0dc;"><span style="top:3.8px;font-size:16px">21</span></div>
<div class="c" style="left:444.0px;top:1318.3px;width:87.1px;height:19.6px;background:#c2e0dc;"><span style="top:3.8px;font-size:16px">24.00</span></div>
<div class="c" style="left:534.0px;top:1318.3px;width:86.7px;height:19.6px;background:#c2e0dc;"><span style="top:3.8px;font-size:16px">42.60</span></div>
<div class="r" style="left:628.9px;top:1055.2px;width:267.9px;height:285.4px;background:#1c2a2b;"></div>
<div class="c" style="left:631.8px;top:1058.0px;width:82.7px;height:43.9px;background:#c2e0dc;"><span style="top:2.5px;font-size:16px">No. of</span><span style="top:23.5px;font-size:16px">Pins/Row</span></div>
<div class="c" style="left:717.4px;top:1058.0px;width:176.7px;height:19.7px;background:#c2e0dc;"><span style="top:2.5px;font-size:16px">Dimension Information</span></div>
<div class="c" style="left:717.4px;top:1080.6px;width:87.1px;height:21.3px;background:#c2e0dc;"><span style="top:3.2px;font-size:17px">A</span></div>
<div class="c" style="left:807.4px;top:1080.6px;width:86.7px;height:21.3px;background:#c2e0dc;"><span style="top:3.2px;font-size:17px">C</span></div>
<div class="c" style="left:631.8px;top:1104.8px;width:82.7px;height:20.8px;background:#fff;"><span style="top:3.8px;font-size:16px">22</span></div>
<div class="c" style="left:717.4px;top:1104.8px;width:87.1px;height:20.8px;background:#fff;"><span style="top:3.8px;font-size:16px">24.00</span></div>
<div class="c" style="left:807.4px;top:1104.8px;width:86.7px;height:20.8px;background:#fff;"><span style="top:3.8px;font-size:16px">44.60</span></div>
<div class="c" style="left:631.8px;top:1128.5px;width:82.7px;height:20.8px;background:#c2e0dc;"><span style="top:3.8px;font-size:16px">23</span></div>
<div class="c" style="left:717.4px;top:1128.5px;width:87.1px;height:20.8px;background:#c2e0dc;"><span style="top:3.8px;font-size:16px">44.00</span></div>
<div class="c" style="left:807.4px;top:1128.5px;width:86.7px;height:20.8px;background:#c2e0dc;"><span style="top:3.8px;font-size:16px">46.60</span></div>
<div class="c" style="left:631.8px;top:1152.2px;width:82.7px;height:20.8px;background:#fff;"><span style="top:3.8px;font-size:16px">24</span></div>
<div class="c" style="left:717.4px;top:1152.2px;width:87.1px;height:20.8px;background:#fff;"><span style="top:3.8px;font-size:16px">46.00</span></div>
<div class="c" style="left:807.4px;top:1152.2px;width:86.7px;height:20.8px;background:#fff;"><span style="top:3.8px;font-size:16px">48.60</span></div>
<div class="c" style="left:631.8px;top:1176.0px;width:82.7px;height:20.8px;background:#c2e0dc;"><span style="top:3.8px;font-size:16px">25</span></div>
<div class="c" style="left:717.4px;top:1176.0px;width:87.1px;height:20.8px;background:#c2e0dc;"><span style="top:3.8px;font-size:16px">48.00</span></div>
<div class="c" style="left:807.4px;top:1176.0px;width:86.7px;height:20.8px;background:#c2e0dc;"><span style="top:3.8px;font-size:16px">50.60</span></div>
<div class="c" style="left:631.8px;top:1199.7px;width:82.7px;height:20.8px;background:#fff;"><span style="top:3.8px;font-size:16px">26</span></div>
<div class="c" style="left:717.4px;top:1199.7px;width:87.1px;height:20.8px;background:#fff;"><span style="top:3.8px;font-size:16px">50.00</span></div>
<div class="c" style="left:807.4px;top:1199.7px;width:86.7px;height:20.8px;background:#fff;"><span style="top:3.8px;font-size:16px">52.60</span></div>
<div class="c" style="left:631.8px;top:1223.4px;width:82.7px;height:20.8px;background:#c2e0dc;"><span style="top:3.8px;font-size:16px">27</span></div>
<div class="c" style="left:717.4px;top:1223.4px;width:87.1px;height:20.8px;background:#c2e0dc;"><span style="top:3.8px;font-size:16px">52.00</span></div>
<div class="c" style="left:807.4px;top:1223.4px;width:86.7px;height:20.8px;background:#c2e0dc;"><span style="top:3.8px;font-size:16px">54.60</span></div>
<div class="c" style="left:631.8px;top:1247.1px;width:82.7px;height:20.8px;background:#fff;"><span style="top:3.8px;font-size:16px">28</span></div>
<div class="c" style="left:717.4px;top:1247.1px;width:87.1px;height:20.8px;background:#fff;"><span style="top:3.8px;font-size:16px">54.00</span></div>
<div class="c" style="left:807.4px;top:1247.1px;width:86.7px;height:20.8px;background:#fff;"><span style="top:3.8px;font-size:16px">56.60</span></div>
<div class="c" style="left:631.8px;top:1270.8px;width:82.7px;height:20.8px;background:#c2e0dc;"><span style="top:3.8px;font-size:16px">29</span></div>
<div class="c" style="left:717.4px;top:1270.8px;width:87.1px;height:20.8px;background:#c2e0dc;"><span style="top:3.8px;font-size:16px">56.00</span></div>
<div class="c" style="left:807.4px;top:1270.8px;width:86.7px;height:20.8px;background:#c2e0dc;"><span style="top:3.8px;font-size:16px">58.60</span></div>
<div class="c" style="left:631.8px;top:1294.6px;width:82.7px;height:20.8px;background:#fff;"><span style="top:3.8px;font-size:16px">30</span></div>
<div class="c" style="left:717.4px;top:1294.6px;width:87.1px;height:20.8px;background:#fff;"><span style="top:3.8px;font-size:16px">58.00</span></div>
<div class="c" style="left:807.4px;top:1294.6px;width:86.7px;height:20.8px;background:#fff;"><span style="top:3.8px;font-size:16px">60.60</span></div>
<div class="c" style="left:631.8px;top:1318.3px;width:82.7px;height:19.6px;background:#c2e0dc;"><span style="top:3.8px;font-size:16px">31</span></div>
<div class="c" style="left:717.4px;top:1318.3px;width:87.1px;height:19.6px;background:#c2e0dc;"><span style="top:3.8px;font-size:16px">60.00</span></div>
<div class="c" style="left:807.4px;top:1318.3px;width:86.7px;height:19.6px;background:#c2e0dc;"><span style="top:3.8px;font-size:16px">62.60</span></div>
<div class="r" style="left:902.3px;top:1055.2px;width:267.9px;height:285.4px;background:#1c2a2b;"></div>
<div class="c" style="left:905.2px;top:1058.0px;width:82.7px;height:43.9px;background:#c2e0dc;"><span style="top:2.5px;font-size:16px">No. of</span><span style="top:23.5px;font-size:16px">Pins/Row</span></div>
<div class="c" style="left:990.8px;top:1058.0px;width:176.7px;height:19.7px;background:#c2e0dc;"><span style="top:2.5px;font-size:16px">Dimension Infomation</span></div>
<div class="c" style="left:990.8px;top:1080.6px;width:87.1px;height:21.3px;background:#c2e0dc;"><span style="top:3.2px;font-size:17px">A</span></div>
<div class="c" style="left:1080.8px;top:1080.6px;width:86.7px;height:21.3px;background:#c2e0dc;"><span style="top:3.2px;font-size:17px">C</span></div>
<div class="c" style="left:905.2px;top:1104.8px;width:82.7px;height:20.8px;background:#fff;"><span style="top:3.8px;font-size:16px">32</span></div>
<div class="c" style="left:990.8px;top:1104.8px;width:87.1px;height:20.8px;background:#fff;"><span style="top:3.8px;font-size:16px">62.00</span></div>
<div class="c" style="left:1080.8px;top:1104.8px;width:86.7px;height:20.8px;background:#fff;"><span style="top:3.8px;font-size:16px">64.60</span></div>
<div class="c" style="left:905.2px;top:1128.5px;width:82.7px;height:20.8px;background:#c2e0dc;"><span style="top:3.8px;font-size:16px">33</span></div>
<div class="c" style="left:990.8px;top:1128.5px;width:87.1px;height:20.8px;background:#c2e0dc;"><span style="top:3.8px;font-size:16px">64.00</span></div>
<div class="c" style="left:1080.8px;top:1128.5px;width:86.7px;height:20.8px;background:#c2e0dc;"><span style="top:3.8px;font-size:16px">66.60</span></div>
<div class="c" style="left:905.2px;top:1152.2px;width:82.7px;height:20.8px;background:#fff;"><span style="top:3.8px;font-size:16px">34</span></div>
<div class="c" style="left:990.8px;top:1152.2px;width:87.1px;height:20.8px;background:#fff;"><span style="top:3.8px;font-size:16px">66.00</span></div>
<div class="c" style="left:1080.8px;top:1152.2px;width:86.7px;height:20.8px;background:#fff;"><span style="top:3.8px;font-size:16px">68.60</span></div>
<div class="c" style="left:905.2px;top:1176.0px;width:82.7px;height:20.8px;background:#c2e0dc;"><span style="top:3.8px;font-size:16px">35</span></div>
<div class="c" style="left:990.8px;top:1176.0px;width:87.1px;height:20.8px;background:#c2e0dc;"><span style="top:3.8px;font-size:16px">68.00</span></div>
<div class="c" style="left:1080.8px;top:1176.0px;width:86.7px;height:20.8px;background:#c2e0dc;"><span style="top:3.8px;font-size:16px">70.60</span></div>
<div class="c" style="left:905.2px;top:1199.7px;width:82.7px;height:20.8px;background:#fff;"><span style="top:3.8px;font-size:16px">36</span></div>
<div class="c" style="left:990.8px;top:1199.7px;width:87.1px;height:20.8px;background:#fff;"><span style="top:3.8px;font-size:16px">70.00</span></div>
<div class="c" style="left:1080.8px;top:1199.7px;width:86.7px;height:20.8px;background:#fff;"><span style="top:3.8px;font-size:16px">72.60</span></div>
<div class="c" style="left:905.2px;top:1223.4px;width:82.7px;height:20.8px;background:#c2e0dc;"><span style="top:3.8px;font-size:16px">37</span></div>
<div class="c" style="left:990.8px;top:1223.4px;width:87.1px;height:20.8px;background:#c2e0dc;"><span style="top:3.8px;font-size:16px">72.00</span></div>
<div class="c" style="left:1080.8px;top:1223.4px;width:86.7px;height:20.8px;background:#c2e0dc;"><span style="top:3.8px;font-size:16px">74.60</span></div>
<div class="c" style="left:905.2px;top:1247.1px;width:82.7px;height:20.8px;background:#fff;"><span style="top:3.8px;font-size:16px">38</span></div>
<div class="c" style="left:990.8px;top:1247.1px;width:87.1px;height:20.8px;background:#fff;"><span style="top:3.8px;font-size:16px">74.00</span></div>
<div class="c" style="left:1080.8px;top:1247.1px;width:86.7px;height:20.8px;background:#fff;"><span style="top:3.8px;font-size:16px">76.60</span></div>
<div class="c" style="left:905.2px;top:1270.8px;width:82.7px;height:20.8px;background:#c2e0dc;"><span style="top:3.8px;font-size:16px">39</span></div>
<div class="c" style="left:990.8px;top:1270.8px;width:87.1px;height:20.8px;background:#c2e0dc;"><span style="top:3.8px;font-size:16px">76.00</span></div>
<div class="c" style="left:1080.8px;top:1270.8px;width:86.7px;height:20.8px;background:#c2e0dc;"><span style="top:3.8px;font-size:16px">78.60</span></div>
<div class="c" style="left:905.2px;top:1294.6px;width:82.7px;height:20.8px;background:#fff;"><span style="top:3.8px;font-size:16px">40</span></div>
<div class="c" style="left:990.8px;top:1294.6px;width:87.1px;height:20.8px;background:#fff;"><span style="top:3.8px;font-size:16px">78.00</span></div>
<div class="c" style="left:1080.8px;top:1294.6px;width:86.7px;height:20.8px;background:#fff;"><span style="top:3.8px;font-size:16px">80.60</span></div>
<div class="c" style="left:905.2px;top:1318.3px;width:82.7px;height:19.6px;background:#c2e0dc;"></div>
<div class="c" style="left:990.8px;top:1318.3px;width:87.1px;height:19.6px;background:#c2e0dc;"></div>
<div class="c" style="left:1080.8px;top:1318.3px;width:86.7px;height:19.6px;background:#c2e0dc;"></div>
<div class="t " style="left:92.8px;top:1020.1px;font-size:17px;letter-spacing:1.83px;">PS:Suggested Mating Pin Length:3.0~4.0mm</div>
<div class="t " style="left:468.3px;top:1397.6px;font-size:27px;color:#222;letter-spacing:1.17px;">Ordering Information</div>
<div class="t " style="left:276.8px;top:1443.4px;font-size:19.5px;color:#111;letter-spacing:0.3px;">MFFA201</div>
<div class="t " style="left:379.0px;top:1443.4px;font-size:19px;color:#111;">-</div>
<div class="r" style="left:391.2px;top:1438.2px;width:71.5px;height:25.3px;background:#c9c9c9;"></div>
<div class="t " style="left:414.5px;top:1441.5px;font-size:19px;letter-spacing:1.2px;">XX</div>
<div class="r" style="left:554.2px;top:1438.2px;width:37.6px;height:25.3px;background:#c9c9c9;"></div>
<div class="t " style="left:560.5px;top:1441.5px;font-size:19px;letter-spacing:1.2px;">XX</div>
<div class="t " style="left:720.6px;top:1441.3px;font-size:19px;">A</div>
<div class="r" style="left:742.6px;top:1438.2px;width:52.1px;height:25.3px;background:#c9c9c9;"></div>
<div class="t " style="left:749.0px;top:1441.5px;font-size:19px;letter-spacing:0.9px;">XXX</div>
<div class="r" style="left:391.2px;top:1471.3px;width:152.5px;height:23.7px;background:#c2e0dc;"></div>
<div class="t " style="left:395.0px;top:1474.8px;font-size:16.5px;letter-spacing:0.12px;">No.of Pins per Row</div>
<div class="r" style="left:554.2px;top:1471.3px;width:158.6px;height:23.7px;background:#c2e0dc;"></div>
<div class="t " style="left:557.6px;top:1474.8px;font-size:16.5px;letter-spacing:0.2px;">Standard Plating</div>
<div class="r" style="left:742.6px;top:1471.3px;width:187.0px;height:23.7px;background:#c2e0dc;"></div>
<div class="t " style="left:745.6px;top:1474.8px;font-size:16.5px;letter-spacing:0.22px;">Pin Length ( B )</div>
<div class="r" style="left:391.2px;top:1501.2px;width:71.5px;height:22.7px;background:#c9c9c9;"></div>
<div class="t " style="left:402.3px;top:1504.7px;font-size:15.5px;color:#333;letter-spacing:0.3px;">02 ~40</div>
<div class="r" style="left:554.2px;top:1501.2px;width:37.6px;height:22.7px;background:#c9c9c9;"></div>
<div class="t " style="left:566.1px;top:1504.8px;font-size:15.5px;color:#333;">02</div>
<div class="t u" style="left:594.7px;top:1504.1px;font-size:16.5px;letter-spacing:0.15px;">:Gold Flash</div>
<div class="r" style="left:742.6px;top:1501.2px;width:52.1px;height:22.7px;background:#c9c9c9;"></div>
<div class="t " style="left:756.8px;top:1504.8px;font-size:15.5px;color:#333;">001</div>
<div class="t u" style="left:798.1px;top:1504.1px;font-size:16.5px;letter-spacing:0.0px;">:B=2.40</div>
<div class="r" style="left:554.2px;top:1531.4px;width:158.6px;height:23.0px;background:#c2e0dc;"></div>
<div class="t " style="left:557.6px;top:1535.2px;font-size:16.5px;letter-spacing:0.2px;">Selective Plating</div>
<div class="t " style="left:745.6px;top:1535.2px;font-size:16.5px;letter-spacing:0.2px;">Selective Length</div>
<div class="r" style="left:554.2px;top:1561.2px;width:37.6px;height:23.7px;background:#c9c9c9;"></div>
<div class="t " style="left:566.1px;top:1565.7px;font-size:15.5px;color:#333;">01</div>
<div class="t u" style="left:594.9px;top:1564.8px;font-size:16.5px;">:Tin</div>
<div class="t " style="left:745.6px;top:1564.8px;font-size:16.5px;letter-spacing:0.25px;">Custom Length Available</div>
<div class="r" style="left:554.2px;top:1592.3px;width:37.6px;height:23.1px;background:#c9c9c9;"></div>
<div class="t " style="left:566.1px;top:1595.6px;font-size:15.5px;color:#333;">05</div>
<div class="t u" style="left:594.9px;top:1594.7px;font-size:16.5px;letter-spacing:0.1px;">:Gold Flash / Tin</div>
<div class="t " style="left:493.5px;top:1671.6px;font-size:17px;color:#111;">*</div>
<div class="t " style="left:503.0px;top:1671.6px;font-size:13px;color:#222;letter-spacing:1.58px;">Standard Packaging:Tube</div>
<div class="t " style="left:87.8px;top:1702.1px;font-size:20px;color:#17a052;letter-spacing:1.28px;">Due to technical progress,all designs,Specifications and components are subject to change without notice</div>
</body></html>
